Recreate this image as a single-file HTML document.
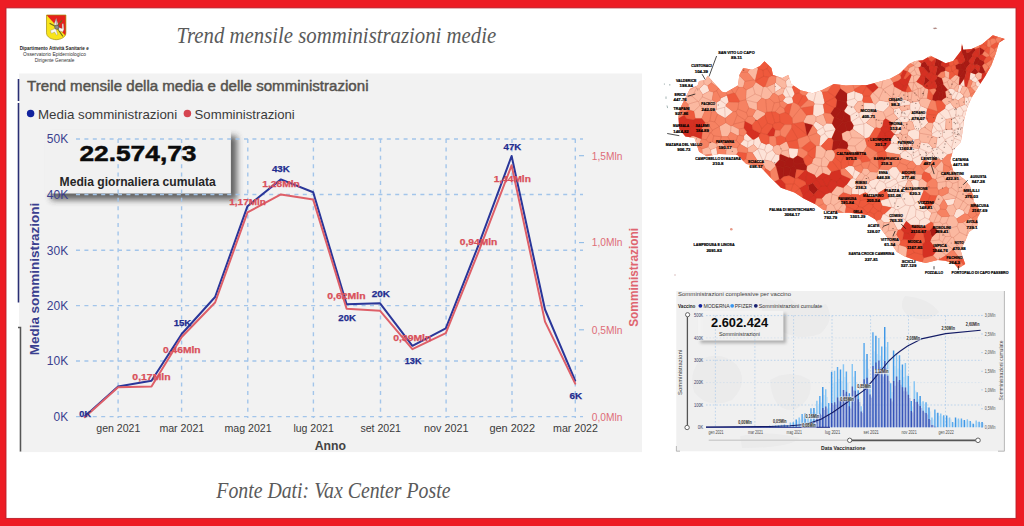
<!DOCTYPE html>
<html lang="it"><head><meta charset="utf-8"><title>Trend mensile somministrazioni medie</title>
<style>html,body{margin:0;padding:0;background:#ed1c24;overflow:hidden}svg{display:block}</style></head>
<body>
<svg width="1024" height="526" viewBox="0 0 1024 526">
<rect x="0" y="0" width="1024" height="526" fill="#ed1c24"/>
<rect x="6" y="7.9" width="1010" height="510.5" fill="#ffffff" stroke="#b9202b" stroke-width="0.9"/>
<text x="176.6" y="43.4" font-family='"Liberation Serif", "DejaVu Serif", serif' font-size="23.4" fill="#5a5a5a" font-style="italic" textLength="319.6" lengthAdjust="spacingAndGlyphs">Trend mensile somministrazioni medie</text>
<text x="216.3" y="497.7" font-family='"Liberation Serif", "DejaVu Serif", serif' font-size="23.4" fill="#5a5a5a" font-style="italic" textLength="234.2" lengthAdjust="spacingAndGlyphs">Fonte Dati: Vax Center Poste</text>
<text x="54.2" y="50.0" font-family='"Liberation Sans", "DejaVu Sans", sans-serif' font-size="5.2" fill="#222" text-anchor="middle" font-weight="bold" textLength="69" lengthAdjust="spacingAndGlyphs">Dipartimento Attività Sanitarie e</text>
<text x="54.5" y="56.0" font-family='"Liberation Sans", "DejaVu Sans", sans-serif' font-size="5.2" fill="#333" text-anchor="middle" textLength="62.8" lengthAdjust="spacingAndGlyphs">Osservatorio Epidemiologico</text>
<text x="54.6" y="62.4" font-family='"Liberation Sans", "DejaVu Sans", sans-serif' font-size="5.2" fill="#333" text-anchor="middle" textLength="39.5" lengthAdjust="spacingAndGlyphs">Dirigente Generale</text>
<g id="shield">
<defs><clipPath id="shc"><path d="M46.5 15 H65.9 V32.8 C65.9 37.2 61 39.5 56.2 39.7 C51.4 39.5 46.5 37.2 46.5 32.8 Z"/></clipPath></defs>
<g clip-path="url(#shc)">
<rect x="46" y="14" width="21" height="27" fill="#f8e41a"/>
<path d="M46.5 15 H66 V36.2 Z" fill="#e6211c"/>
<path d="M50 23.4 L55.6 26.4 M62.6 36 L57.6 28.6 M61.8 20.6 L57.6 25.6" stroke="#6a6a1e" stroke-width="1.1" fill="none" stroke-linecap="round"/>
<path d="M54 24.4 L56.2 18.3 L58 24.2 L56.4 25.6 Z M58.8 27.6 L62.2 28.6 L62.1 23.8 L63.4 23.7 L63.9 29.6 L62.8 32 L58.8 30.4 Z M55.4 28.4 L50.4 30.6 L51.4 33.4 L54.6 32 L56.6 35.2 L57.6 34.6 L56.4 30.4 Z" fill="#fbf8f0" stroke="#777" stroke-width="0.3"/>
<path d="M56.2 19.6 L56.3 24.6" stroke="#444" stroke-width="0.5"/>
<circle cx="56.8" cy="27.2" r="2.1" fill="#8b8d8c" stroke="#3c3c3c" stroke-width="0.45"/>
</g>
<path d="M46.5 15 H65.9 V32.8 C65.9 37.2 61 39.5 56.2 39.7 C51.4 39.5 46.5 37.2 46.5 32.8 Z" fill="none" stroke="#a38f10" stroke-width="0.7"/>
</g>
<rect x="19" y="73.5" width="623" height="378.6" fill="#f2f2f2"/>
<path d="M18.5 79 V101 M18.5 103 V302.5" stroke="#2a2f74" stroke-width="1.6"/>
<path d="M18 327.6 H20.5 V451.5" stroke="#555" stroke-width="1.5" fill="none"/>
<text x="27.1" y="90.6" font-family='"Liberation Sans", "DejaVu Sans", sans-serif' font-size="14.4" fill="#55524e" textLength="341.4" lengthAdjust="spacingAndGlyphs" stroke="#55524e" stroke-width="0.45">Trend mensile della media e delle somministrazioni</text>
<circle cx="30.6" cy="113.4" r="3.75" fill="#12239e"/>
<text x="38.0" y="118.8" font-family='"Liberation Sans", "DejaVu Sans", sans-serif' font-size="13.6" fill="#3a3a3a" textLength="139.2" lengthAdjust="spacingAndGlyphs">Media somministrazioni</text>
<circle cx="187.4" cy="113.4" r="3.75" fill="#d64550"/>
<text x="194.6" y="118.8" font-family='"Liberation Sans", "DejaVu Sans", sans-serif' font-size="13.6" fill="#3a3a3a" textLength="100.2" lengthAdjust="spacingAndGlyphs">Somministrazioni</text>
<defs><filter id="sh1" x="-20%" y="-20%" width="150%" height="160%"><feGaussianBlur stdDeviation="3"/></filter></defs>
<rect x="51" y="136" width="186" height="64" fill="#2e2e2e" opacity="0.72" filter="url(#sh1)"/>
<rect x="45" y="129.7" width="185.9" height="63.8" fill="#f1f1f1"/>
<g stroke="#a3c5ea" stroke-width="1.4" stroke-dasharray="4 4.4" fill="none"><path d="M76 139.0 H583"/><path d="M76 194.5 H583"/><path d="M76 250.2 H583"/><path d="M76 305.6 H583"/><path d="M76 361.0 H583"/><path d="M76 416.6 H583"/><path d="M118.1 139 V418"/><path d="M181.6 139 V418"/><path d="M247.8 139 V418"/><path d="M313.4 139 V418"/><path d="M380.5 139 V418"/><path d="M446.1 139 V418"/><path d="M512.0 139 V418"/><path d="M575.3 139 V418"/></g>
<g stroke="#8fbbe6" stroke-width="1.1"><path d="M579 155.7 H584"/><path d="M579 242.6 H584"/><path d="M579 329.8 H584"/></g>
<text x="68.2" y="143.4" font-family='"Liberation Sans", "DejaVu Sans", sans-serif' font-size="12.3" fill="#3a3f8f" text-anchor="end" textLength="21.4" lengthAdjust="spacingAndGlyphs">50K</text>
<text x="68.2" y="198.9" font-family='"Liberation Sans", "DejaVu Sans", sans-serif' font-size="12.3" fill="#3a3f8f" text-anchor="end" textLength="21.4" lengthAdjust="spacingAndGlyphs">40K</text>
<text x="68.2" y="254.6" font-family='"Liberation Sans", "DejaVu Sans", sans-serif' font-size="12.3" fill="#3a3f8f" text-anchor="end" textLength="21.4" lengthAdjust="spacingAndGlyphs">30K</text>
<text x="68.2" y="310.0" font-family='"Liberation Sans", "DejaVu Sans", sans-serif' font-size="12.3" fill="#3a3f8f" text-anchor="end" textLength="21.4" lengthAdjust="spacingAndGlyphs">20K</text>
<text x="68.2" y="365.4" font-family='"Liberation Sans", "DejaVu Sans", sans-serif' font-size="12.3" fill="#3a3f8f" text-anchor="end" textLength="21.4" lengthAdjust="spacingAndGlyphs">10K</text>
<text x="68.2" y="421.0" font-family='"Liberation Sans", "DejaVu Sans", sans-serif' font-size="12.3" fill="#3a3f8f" text-anchor="end" textLength="14.6" lengthAdjust="spacingAndGlyphs">0K</text>
<text x="591.8" y="159.5" font-family='"Liberation Sans", "DejaVu Sans", sans-serif' font-size="10.6" fill="#de6d78" textLength="30.6" lengthAdjust="spacingAndGlyphs">1,5Mln</text>
<text x="591.8" y="246.4" font-family='"Liberation Sans", "DejaVu Sans", sans-serif' font-size="10.6" fill="#de6d78" textLength="30.6" lengthAdjust="spacingAndGlyphs">1,0Mln</text>
<text x="591.8" y="333.6" font-family='"Liberation Sans", "DejaVu Sans", sans-serif' font-size="10.6" fill="#de6d78" textLength="30.6" lengthAdjust="spacingAndGlyphs">0,5Mln</text>
<text x="591.8" y="420.8" font-family='"Liberation Sans", "DejaVu Sans", sans-serif' font-size="10.6" fill="#de6d78" textLength="30.6" lengthAdjust="spacingAndGlyphs">0,0Mln</text>
<text transform="translate(38.6 279) rotate(-90)" text-anchor="middle" font-family='"Liberation Sans", "DejaVu Sans", sans-serif' font-size="12.6" font-weight="bold" fill="#3a3f8f" textLength="152.5" lengthAdjust="spacingAndGlyphs">Media somministrazioni</text>
<text transform="translate(638.2 277.4) rotate(-90)" text-anchor="middle" font-family='"Liberation Sans", "DejaVu Sans", sans-serif' font-size="12.4" font-weight="bold" fill="#df6570" textLength="98.8" lengthAdjust="spacingAndGlyphs">Somministrazioni</text>
<text x="118.3" y="432.2" font-family='"Liberation Sans", "DejaVu Sans", sans-serif' font-size="11.6" fill="#3b3b3b" text-anchor="middle" textLength="44" lengthAdjust="spacingAndGlyphs">gen 2021</text>
<text x="181.79999999999998" y="432.2" font-family='"Liberation Sans", "DejaVu Sans", sans-serif' font-size="11.6" fill="#3b3b3b" text-anchor="middle" textLength="44.8" lengthAdjust="spacingAndGlyphs">mar 2021</text>
<text x="248.0" y="432.2" font-family='"Liberation Sans", "DejaVu Sans", sans-serif' font-size="11.6" fill="#3b3b3b" text-anchor="middle" textLength="47.2" lengthAdjust="spacingAndGlyphs">mag 2021</text>
<text x="313.59999999999997" y="432.2" font-family='"Liberation Sans", "DejaVu Sans", sans-serif' font-size="11.6" fill="#3b3b3b" text-anchor="middle" textLength="40.4" lengthAdjust="spacingAndGlyphs">lug 2021</text>
<text x="380.7" y="432.2" font-family='"Liberation Sans", "DejaVu Sans", sans-serif' font-size="11.6" fill="#3b3b3b" text-anchor="middle" textLength="40.6" lengthAdjust="spacingAndGlyphs">set 2021</text>
<text x="446.3" y="432.2" font-family='"Liberation Sans", "DejaVu Sans", sans-serif' font-size="11.6" fill="#3b3b3b" text-anchor="middle" textLength="44.6" lengthAdjust="spacingAndGlyphs">nov 2021</text>
<text x="512.2" y="432.2" font-family='"Liberation Sans", "DejaVu Sans", sans-serif' font-size="11.6" fill="#3b3b3b" text-anchor="middle" textLength="45.6" lengthAdjust="spacingAndGlyphs">gen 2022</text>
<text x="575.5" y="432.2" font-family='"Liberation Sans", "DejaVu Sans", sans-serif' font-size="11.6" fill="#3b3b3b" text-anchor="middle" textLength="44.9" lengthAdjust="spacingAndGlyphs">mar 2022</text>
<text x="330.3" y="450.4" font-family='"Liberation Sans", "DejaVu Sans", sans-serif' font-size="12.2" fill="#444" text-anchor="middle" font-weight="bold" textLength="31.3" lengthAdjust="spacingAndGlyphs">Anno</text>
<path d="M84.7 416.4 L118.1 386.4 L151.5 380.8 L181.7 334.0 L215.1 297.0 L247.5 206.2 L280.9 179.4 L313.2 192.3 L346.6 304.2 L380.1 303.3 L412.4 345.8 L445.8 328.3 L478.2 245.8 L511.6 156.0 L545.0 309.5 L575.2 380.6" fill="none" stroke="#2a3699" stroke-width="2" stroke-linejoin="round" stroke-linecap="round"/>
<path d="M84.7 417.2 L118.1 387.3 L151.5 386.5 L181.7 337.0 L215.1 302.5 L247.5 212.4 L280.9 194.4 L313.2 199.6 L346.6 308.8 L380.1 310.8 L412.4 349.2 L445.8 333.2 L478.2 252.6 L511.6 165.4 L545.0 321.6 L575.2 383.6" fill="none" stroke="#de5f68" stroke-width="2" stroke-linejoin="round" stroke-linecap="round"/>
<text x="85.2" y="416.90000000000003" font-family='"Liberation Sans", "DejaVu Sans", sans-serif' font-size="8.7" fill="#222c8f" text-anchor="middle" font-weight="bold" textLength="11.7" lengthAdjust="spacingAndGlyphs" stroke="#222c8f" stroke-width="0.25">0K</text>
<text x="182.5" y="326.40000000000003" font-family='"Liberation Sans", "DejaVu Sans", sans-serif' font-size="8.7" fill="#222c8f" text-anchor="middle" font-weight="bold" textLength="17.6" lengthAdjust="spacingAndGlyphs" stroke="#222c8f" stroke-width="0.25">15K</text>
<text x="280.9" y="171.6" font-family='"Liberation Sans", "DejaVu Sans", sans-serif' font-size="8.7" fill="#222c8f" text-anchor="middle" font-weight="bold" textLength="17.9" lengthAdjust="spacingAndGlyphs" stroke="#222c8f" stroke-width="0.25">43K</text>
<text x="347.1" y="321.40000000000003" font-family='"Liberation Sans", "DejaVu Sans", sans-serif' font-size="8.7" fill="#222c8f" text-anchor="middle" font-weight="bold" textLength="17.6" lengthAdjust="spacingAndGlyphs" stroke="#222c8f" stroke-width="0.25">20K</text>
<text x="380.8" y="296.8" font-family='"Liberation Sans", "DejaVu Sans", sans-serif' font-size="8.7" fill="#222c8f" text-anchor="middle" font-weight="bold" textLength="18.3" lengthAdjust="spacingAndGlyphs" stroke="#222c8f" stroke-width="0.25">20K</text>
<text x="413.1" y="364.0" font-family='"Liberation Sans", "DejaVu Sans", sans-serif' font-size="8.7" fill="#222c8f" text-anchor="middle" font-weight="bold" textLength="16.7" lengthAdjust="spacingAndGlyphs" stroke="#222c8f" stroke-width="0.25">13K</text>
<text x="512.4" y="149.7" font-family='"Liberation Sans", "DejaVu Sans", sans-serif' font-size="8.7" fill="#222c8f" text-anchor="middle" font-weight="bold" textLength="17.7" lengthAdjust="spacingAndGlyphs" stroke="#222c8f" stroke-width="0.25">47K</text>
<text x="575.8" y="398.90000000000003" font-family='"Liberation Sans", "DejaVu Sans", sans-serif' font-size="8.7" fill="#222c8f" text-anchor="middle" font-weight="bold" textLength="12.6" lengthAdjust="spacingAndGlyphs" stroke="#222c8f" stroke-width="0.25">6K</text>
<text x="151.5" y="379.6" font-family='"Liberation Sans", "DejaVu Sans", sans-serif' font-size="8.9" fill="#d9505a" text-anchor="middle" font-weight="bold" textLength="38.3" lengthAdjust="spacingAndGlyphs" stroke="#d9505a" stroke-width="0.25">0,17Mln</text>
<text x="181.8" y="353.0" font-family='"Liberation Sans", "DejaVu Sans", sans-serif' font-size="8.9" fill="#d9505a" text-anchor="middle" font-weight="bold" textLength="37.6" lengthAdjust="spacingAndGlyphs" stroke="#d9505a" stroke-width="0.25">0,46Mln</text>
<text x="247.6" y="205.0" font-family='"Liberation Sans", "DejaVu Sans", sans-serif' font-size="8.9" fill="#d9505a" text-anchor="middle" font-weight="bold" textLength="36.6" lengthAdjust="spacingAndGlyphs" stroke="#d9505a" stroke-width="0.25">1,17Mln</text>
<text x="281.0" y="186.79999999999998" font-family='"Liberation Sans", "DejaVu Sans", sans-serif' font-size="8.9" fill="#d9505a" text-anchor="middle" font-weight="bold" textLength="37.5" lengthAdjust="spacingAndGlyphs" stroke="#d9505a" stroke-width="0.25">1,28Mln</text>
<text x="346.4" y="299.40000000000003" font-family='"Liberation Sans", "DejaVu Sans", sans-serif' font-size="8.9" fill="#d9505a" text-anchor="middle" font-weight="bold" textLength="38.3" lengthAdjust="spacingAndGlyphs" stroke="#d9505a" stroke-width="0.25">0,62Mln</text>
<text x="412.3" y="340.70000000000005" font-family='"Liberation Sans", "DejaVu Sans", sans-serif' font-size="8.9" fill="#d9505a" text-anchor="middle" font-weight="bold" textLength="38.2" lengthAdjust="spacingAndGlyphs" stroke="#d9505a" stroke-width="0.25">0,39Mln</text>
<text x="478.5" y="245.2" font-family='"Liberation Sans", "DejaVu Sans", sans-serif' font-size="8.9" fill="#d9505a" text-anchor="middle" font-weight="bold" textLength="37.6" lengthAdjust="spacingAndGlyphs" stroke="#d9505a" stroke-width="0.25">0,94Mln</text>
<text x="512.3" y="182.0" font-family='"Liberation Sans", "DejaVu Sans", sans-serif' font-size="8.9" fill="#d9505a" text-anchor="middle" font-weight="bold" textLength="37.2" lengthAdjust="spacingAndGlyphs" stroke="#d9505a" stroke-width="0.25">1,44Mln</text>
<text x="79.4" y="160.8" font-family='"Liberation Sans", "DejaVu Sans", sans-serif' font-size="22.4" fill="#0b0b0b" font-weight="bold" textLength="117.1" lengthAdjust="spacingAndGlyphs" stroke="#0b0b0b" stroke-width="0.5">22.574,73</text>
<text x="59.6" y="185.5" font-family='"Liberation Sans", "DejaVu Sans", sans-serif' font-size="12.1" fill="#262626" font-weight="bold" textLength="156.2" lengthAdjust="spacingAndGlyphs">Media giornaliera cumulata</text>
<g id="map">
<defs><clipPath id="sic"><path d="M679.3 128.9 L678.4 117 L680.1 108.4 L683.9 100.8 L687.7 93.2 L690 88.7 L697.6 85.6 L699.1 81.1 L705.2 80.3 L707.5 75.7 L715 84 L722 91.7 L725.7 92.5 L737.9 85.6 L739.4 75 L743.2 68.1 L752.3 69.7 L760 65.9 L764.5 61.3 L771.4 68.1 L773 75 L782.2 78 L788.3 75 L791.3 84.1 L800.4 90.2 L812.6 93.2 L821.7 90.2 L833.9 84.1 L846 85.6 L855.2 84.9 L867.3 84.9 L876.5 82.6 L890 78.8 L900 73.2 L909.1 64.1 L915.2 61.1 L922.8 60.3 L930.4 55.7 L938 59.5 L945.6 63.3 L953.2 61.1 L961.2 50.6 L961.9 43.6 L963.3 49.7 L971.5 48.9 L982.1 44.3 L992.8 35.2 L1004.9 39 L998.9 42.8 L995.8 53.5 L991.3 65.6 L985.2 76.3 L979.1 85.6 L971.5 97.8 L966.9 108.5 L963.9 120.6 L962.4 132.8 L960.8 142 L953.2 149.8 L950.2 160.4 L953.2 171 L959.3 175.6 L965.4 180.2 L970 186.3 L973 195.4 L973.5 201.5 L977.3 206 L980.4 212.2 L977.3 218.3 L977.3 225.9 L969 232 L965.2 241 L960.6 250.2 L962.9 257.8 L965.2 263.9 L958.3 268.4 L954.5 263.9 L945.4 260.8 L937.8 260.1 L925.6 263.1 L916.5 260.8 L904.3 256.3 L896.7 251.7 L887.6 238 L880 227.4 L875.4 219.5 L867.8 215 L849.5 212.7 L838.9 212.7 L823.4 210 L815.8 204.5 L803.7 198.4 L794.5 192.4 L780.9 187.8 L770.4 177.5 L761.5 168 L755 165.5 L746.3 163.9 L737.1 154.8 L718.9 154 L706.7 156.3 L699.1 151.7 L694.5 138 L685.4 136.5 Z"/></clipPath></defs>
<path d="M679.3 128.9 L678.4 117 L680.1 108.4 L683.9 100.8 L687.7 93.2 L690 88.7 L697.6 85.6 L699.1 81.1 L705.2 80.3 L707.5 75.7 L715 84 L722 91.7 L725.7 92.5 L737.9 85.6 L739.4 75 L743.2 68.1 L752.3 69.7 L760 65.9 L764.5 61.3 L771.4 68.1 L773 75 L782.2 78 L788.3 75 L791.3 84.1 L800.4 90.2 L812.6 93.2 L821.7 90.2 L833.9 84.1 L846 85.6 L855.2 84.9 L867.3 84.9 L876.5 82.6 L890 78.8 L900 73.2 L909.1 64.1 L915.2 61.1 L922.8 60.3 L930.4 55.7 L938 59.5 L945.6 63.3 L953.2 61.1 L961.2 50.6 L961.9 43.6 L963.3 49.7 L971.5 48.9 L982.1 44.3 L992.8 35.2 L1004.9 39 L998.9 42.8 L995.8 53.5 L991.3 65.6 L985.2 76.3 L979.1 85.6 L971.5 97.8 L966.9 108.5 L963.9 120.6 L962.4 132.8 L960.8 142 L953.2 149.8 L950.2 160.4 L953.2 171 L959.3 175.6 L965.4 180.2 L970 186.3 L973 195.4 L973.5 201.5 L977.3 206 L980.4 212.2 L977.3 218.3 L977.3 225.9 L969 232 L965.2 241 L960.6 250.2 L962.9 257.8 L965.2 263.9 L958.3 268.4 L954.5 263.9 L945.4 260.8 L937.8 260.1 L925.6 263.1 L916.5 260.8 L904.3 256.3 L896.7 251.7 L887.6 238 L880 227.4 L875.4 219.5 L867.8 215 L849.5 212.7 L838.9 212.7 L823.4 210 L815.8 204.5 L803.7 198.4 L794.5 192.4 L780.9 187.8 L770.4 177.5 L761.5 168 L755 165.5 L746.3 163.9 L737.1 154.8 L718.9 154 L706.7 156.3 L699.1 151.7 L694.5 138 L685.4 136.5 Z" fill="#f68262"/>
<g clip-path="url(#sic)" stroke="#b4442f" stroke-opacity="0.35" stroke-width="0.3" stroke-linejoin="round">
<path fill="#fde3d8" d="M960.0 84.7 959.1 84.6 957.6 91.7 958.2 92.1 960.2 92.4 962.5 86.2ZM947.9 89.9 951.6 96.3 955.4 91.0 953.7 89.1 950.6 88.3 949.7 88.5ZM975.7 82.6 978.3 80.5 987.7 94.6 985.0 93.4 975.8 85.3ZM970.4 72.4 970.6 72.4 975.4 74.3 975.4 76.2 971.3 80.0 969.4 79.5ZM975.7 82.6 978.3 80.5 978.5 80.2 975.4 76.2 971.3 80.0 972.5 81.4ZM957.6 91.7 955.4 91.0 951.6 96.3 951.7 98.8 951.9 99.0 955.0 99.1 958.2 92.1ZM958.2 92.1 955.0 99.1 958.2 100.6 963.8 96.4 963.2 94.9 960.2 92.4ZM964.1 78.7 964.9 86.3 962.5 86.2 960.0 84.7 964.1 78.7ZM897.8 209.7 901.8 217.9 905.2 219.8 910.3 205.8 905.6 205.0ZM761.2 142.4 766.1 144.4 764.5 150.0 758.5 148.5ZM954.9 117.5 959.8 124.7 965.4 118.6 962.2 115.9 956.0 116.5ZM851.4 121.7 853.6 125.5 863.8 123.9 863.9 123.8 859.3 116.6ZM961.1 136.1 960.9 128.2 1006.6 130.7 1052.9 138.9 1068.7 142.5 1081.7 147.2 1085.0 148.6 1068.9 150.8 1001.6 157.9 979.9 155.3 965.8 142.9ZM747.4 148.2 748.0 141.5 752.5 139.3 754.0 139.4 753.6 144.5 747.5 148.2ZM875.2 104.5 875.4 110.0 872.3 113.2 863.5 110.3 863.7 102.6 873.0 103.1ZM852.7 176.7 852.9 178.0 855.8 179.4 860.6 172.7 854.9 169.6ZM878.3 193.0 874.4 188.4 872.1 188.2 867.4 193.4 868.6 195.9 877.5 197.8ZM858.9 112.8 859.3 116.6 851.4 121.7 850.6 121.2 850.1 115.7 856.8 111.7ZM967.8 97.3 964.7 96.9 964.5 104.6 966.4 105.0 969.5 102.0ZM906.9 122.6 909.2 120.6 907.7 117.0 901.0 116.4 898.5 118.4 901.6 122.4ZM944.9 108.5 948.5 110.7 954.4 107.9 950.4 102.6 945.5 105.4ZM903.4 99.5 898.6 96.8 893.8 98.0 900.0 105.8ZM954.9 117.5 951.5 118.4 948.5 110.7 954.4 107.9 956.1 108.5 956.0 116.5ZM918.9 188.2 923.8 190.6 919.6 200.8 915.0 203.1 910.8 192.4 914.1 188.7ZM901.6 122.4 898.5 118.4 898.0 118.5 893.1 122.8 898.3 128.1 901.5 128.1 901.8 127.9ZM916.4 118.5 912.5 122.0 909.2 120.6 907.7 117.0 911.1 111.2 912.5 111.8ZM864.0 137.0 863.8 123.9 853.6 125.5 852.6 129.0ZM854.6 98.5 854.9 91.5 862.3 93.9 863.3 96.4 862.4 100.8 857.8 101.7ZM928.4 122.5 924.3 127.1 921.3 128.8 918.9 118.5 919.1 118.4 925.9 118.2ZM864.5 138.3 864.6 138.5 865.0 138.7 869.4 137.2 874.8 128.2 866.3 122.7 863.9 123.8 863.8 123.9 864.0 137.0ZM852.2 165.9 848.8 165.8 844.5 168.2 852.7 176.7 854.9 169.6 854.0 166.9ZM897.0 143.6 902.8 151.6 900.1 154.7 886.2 152.2 884.7 150.5 890.7 143.4ZM888.7 197.8 892.9 196.5 897.0 198.7 893.9 207.9 891.9 207.3 888.4 198.3ZM895.5 134.7 900.6 133.6 901.5 128.1 898.3 128.1 894.1 133.9 894.2 134.3ZM893.9 207.9 895.5 209.3 891.0 218.1 884.4 214.1 891.4 207.4 891.9 207.3ZM854.6 98.5 854.9 91.5 854.2 90.8 847.0 93.4 847.0 100.6ZM897.0 143.6 890.7 143.4 890.8 139.5 894.2 134.3 895.5 134.7 899.8 140.2ZM916.0 209.2 923.8 211.9 924.8 217.7 919.7 220.6 915.4 216.3ZM919.1 118.4 920.0 112.5 918.6 110.6 912.5 111.8 916.4 118.5 918.9 118.5ZM812.9 124.9 815.8 121.2 823.3 126.1 823.2 127.3 817.2 130.6ZM969.9 96.1 1039.1 126.1 1062.5 139.2 969.5 102.0 967.8 97.3ZM900.0 172.1 895.9 179.2 894.5 178.9 889.0 173.9 888.5 170.1 892.2 167.0 896.6 166.9ZM823.2 127.3 825.2 131.5 835.4 129.8 835.8 129.4 832.0 123.5 826.6 123.3 823.3 126.1ZM933.1 124.9 931.3 131.9 932.1 133.8 937.2 130.7ZM901.0 116.4 898.5 118.4 898.0 118.5 893.8 113.2 893.5 109.3 899.4 107.8 901.8 111.3ZM904.0 151.0 902.8 151.6 900.1 154.7 900.5 157.9 910.7 161.2 912.5 160.7 912.7 158.9 911.1 154.9 905.7 150.7ZM790.0 96.8 792.3 97.8 794.8 94.0 792.1 87.1 786.4 86.8 785.5 87.9ZM919.9 165.4 916.4 165.5 912.5 160.7 912.7 158.9 919.9 155.2 924.0 158.5 924.0 159.3ZM959.9 127.8 960.9 128.2 1006.6 130.7 965.4 118.6 959.8 124.7ZM889.4 222.6 891.7 221.1 891.0 218.1 884.4 214.1 882.7 214.3 880.7 219.2 883.9 222.5ZM930.1 162.8 935.2 157.4 931.8 151.5 929.1 152.9 924.0 158.5 924.0 159.3ZM865.5 184.0 863.4 187.3 865.2 192.6 867.4 193.4 872.1 188.2 868.5 183.5ZM775.6 153.9 771.1 161.2 764.6 160.0 766.8 153.4 772.7 150.0ZM926.4 113.1 920.0 112.5 918.6 110.6 920.7 105.7 927.4 108.7ZM905.7 150.7 911.1 154.9 918.5 149.9 918.7 148.5 909.4 147.6 908.5 147.9ZM965.4 118.6 1006.6 130.7 1052.9 138.9 969.6 109.8 963.5 111.4 962.2 115.9ZM789.7 157.5 793.1 158.7 797.5 155.5 798.5 148.7 789.3 148.1 788.3 150.0ZM897.3 229.6 893.2 221.7 901.8 217.9 905.2 219.8 906.2 221.3 900.9 229.6 898.1 230.0ZM718.3 161.2 716.5 147.4 710.6 149.7 711.3 154.2ZM897.5 182.9 897.6 182.6 895.9 179.2 894.5 178.9 885.2 183.9 886.3 187.3 890.5 187.7ZM961.1 136.1 960.9 128.2 959.9 127.8 953.1 130.0 953.5 133.6ZM870.0 180.7 868.5 183.5 872.1 188.2 874.4 188.4 879.5 180.4 877.6 177.9ZM893.9 207.9 895.5 209.3 897.8 209.7 905.6 205.0 901.6 197.6 897.0 198.7ZM748.0 141.5 743.9 139.5 743.7 136.1 746.3 133.4 752.5 139.3ZM895.5 209.3 891.0 218.1 891.7 221.1 893.2 221.7 901.8 217.9 897.8 209.7ZM872.3 113.2 872.1 116.4 866.3 122.7 863.9 123.8 859.3 116.6 858.9 112.8 863.5 110.3ZM945.0 140.6 944.9 139.6 942.4 136.2 937.1 137.8 935.8 147.2 937.6 147.3ZM945.5 129.4 952.0 129.2 953.1 130.0 953.5 133.6 952.9 135.5 944.9 139.6 942.4 136.2 942.5 131.1 942.7 130.6ZM883.3 112.1 875.4 110.0 875.2 104.5 879.3 100.2 889.2 102.1 889.4 105.9ZM854.6 98.5 847.0 100.6 846.4 101.9 847.5 105.5 853.8 107.1 857.8 101.7ZM918.9 188.2 919.0 180.5 914.3 179.2 910.4 181.0 914.1 188.7ZM908.0 180.2 907.4 179.6 897.6 182.6 897.5 182.9 898.7 185.0 904.9 187.5ZM961.1 136.1 953.5 133.6 952.9 135.5 954.2 138.2 965.8 142.9ZM942.7 130.6 942.5 131.1 937.2 130.7 933.1 124.9 932.7 122.7 934.5 121.5 939.6 123.9ZM888.4 198.3 880.2 200.6 882.1 205.7 891.4 207.4 891.9 207.3ZM816.8 133.1 817.2 130.6 823.2 127.3 825.2 131.5 824.7 133.6 820.3 135.9ZM823.3 114.2 816.0 117.1 813.0 114.6 813.4 105.9 814.5 103.9 823.2 104.6 824.5 112.8ZM753.6 144.5 757.7 148.9 757.7 148.9 758.5 148.5 761.2 142.4 758.7 136.6 754.0 139.4ZM814.5 103.9 813.6 102.1 817.0 88.3 822.2 92.0 824.8 102.7 824.7 102.9 823.2 104.6ZM945.9 119.3 939.6 123.9 942.7 130.6 945.5 129.4 946.0 119.3ZM877.2 172.2 877.6 177.9 879.5 180.4 883.9 182.3 889.0 173.9 888.5 170.1 879.1 169.2ZM888.7 197.8 885.8 188.5 886.3 187.3 890.5 187.7 894.6 191.6 892.9 196.5ZM792.1 87.1 802.3 78.6 811.5 65.0 812.6 57.1 785.7 81.1 786.4 86.8ZM906.7 221.4 910.7 225.0 919.3 224.9 919.7 220.6 915.4 216.3ZM919.0 148.1 929.1 152.9 931.8 151.5 932.9 148.1 928.7 143.3 920.9 142.1ZM931.0 222.0 929.2 219.4 924.8 217.7 919.7 220.6 919.3 224.9 921.2 228.2ZM905.2 219.8 906.2 221.3 906.7 221.4 915.4 216.3 916.0 209.2 913.8 205.2 910.3 205.8ZM952.0 129.2 953.1 130.0 959.9 127.8 959.8 124.7 954.9 117.5 951.5 118.4 951.5 118.5ZM779.5 159.7 775.1 164.2 771.1 161.2 775.6 153.9 779.6 154.9ZM820.3 135.9 824.7 133.6 828.4 138.1 821.0 146.1 819.1 145.5ZM855.8 179.4 856.5 180.2 856.3 185.8 851.9 188.5 846.6 184.7 850.7 179.0 852.9 178.0ZM966.4 105.0 969.6 109.8 963.5 111.4 960.2 106.3 964.5 104.6ZM908.5 147.9 909.4 147.6 915.4 139.8 913.0 139.5 907.9 141.9ZM885.8 188.5 886.3 187.3 885.2 183.9 883.9 182.3 879.5 180.4 874.4 188.4 878.3 193.0ZM919.9 155.2 912.7 158.9 911.1 154.9 918.5 149.9ZM825.2 131.5 835.4 129.8 831.7 138.3 828.4 138.1 824.7 133.6ZM908.7 101.0 910.7 102.5 909.9 105.0 900.1 106.3 900.0 105.8 903.4 99.5 904.9 99.5ZM955.4 198.2 953.5 204.5 947.6 205.8 944.4 199.9ZM931.7 213.0 929.2 219.4 924.8 217.7 923.8 211.9 927.6 209.5ZM894.6 191.6 890.5 187.7 897.5 182.9 898.7 185.0 898.0 190.9ZM790.0 96.8 785.5 87.9 784.6 88.3 782.7 94.1 785.4 97.3ZM919.0 148.1 929.1 152.9 924.0 158.5 919.9 155.2 918.5 149.9 918.7 148.5ZM863.4 187.3 865.2 192.6 859.6 195.3 858.5 194.6 858.5 187.3ZM772.7 150.0 773.5 146.5 769.1 143.5 766.1 144.4 764.5 150.0 766.8 153.4ZM892.9 196.5 894.6 191.6 898.0 190.9 902.6 194.3 901.6 197.6 897.0 198.7ZM951.5 147.8 954.2 138.2 952.9 135.5 944.9 139.6 945.0 140.6ZM904.0 151.0 902.8 151.6 897.0 143.6 899.8 140.2 901.3 140.0 903.0 140.9ZM938.5 112.7 939.1 112.6 945.9 119.3 939.6 123.9 934.5 121.5 936.6 115.2ZM904.9 187.5 898.7 185.0 898.0 190.9 902.6 194.3 906.1 191.9ZM951.5 147.8 954.2 138.2 965.8 142.9 979.9 155.3 974.4 155.7 957.2 154.1 953.7 152.9ZM911.1 111.2 907.7 117.0 901.0 116.4 901.8 111.3 910.0 109.0ZM927.6 209.4 927.6 209.5 923.8 211.9 916.0 209.2 913.8 205.2 915.0 203.1 919.6 200.8 922.9 201.9ZM757.7 148.9 762.9 160.9 764.6 160.0 766.8 153.4 764.5 150.0 758.5 148.5ZM757.7 148.9 752.4 152.7 758.6 162.6 762.0 161.7 762.9 160.9 757.7 148.9ZM921.3 128.8 918.9 118.5 916.4 118.5 912.5 122.0 914.5 129.1 919.3 131.1ZM702.7 94.6 709.5 91.1 707.7 85.8 704.1 84.0 699.1 89.0ZM725.2 118.2 725.2 118.2 724.7 107.2 725.8 106.1 733.1 111.8ZM853.8 107.1 856.8 111.7 850.1 115.7 844.8 112.3 844.1 110.7 847.5 105.5ZM945.9 119.3 939.1 112.6 944.9 108.5 948.5 110.7 951.5 118.4 951.5 118.5 946.0 119.3ZM747.4 148.2 748.0 141.5 743.9 139.5 740.0 144.1ZM726.1 104.4 725.8 106.1 724.7 107.2 716.5 109.4 716.4 102.5 720.1 100.2ZM883.9 182.3 889.0 173.9 894.5 178.9 885.2 183.9ZM969.5 102.0 966.4 105.0 969.6 109.8 1052.9 138.9 1068.7 142.5 1062.5 139.2ZM813.6 102.1 817.0 88.3 814.5 83.9 805.6 95.4 808.0 99.8ZM858.5 187.3 858.5 194.6 851.5 194.3 851.9 188.5 856.3 185.8ZM937.2 130.7 932.1 133.8 931.7 135.3 932.0 136.1 937.1 137.8 942.4 136.2 942.5 131.1ZM910.8 192.4 915.0 203.1 913.8 205.2 910.3 205.8 905.6 205.0 901.6 197.6 902.6 194.3 906.1 191.9ZM775.0 92.3 782.0 88.0 775.5 82.5 774.7 83.5ZM956.0 116.5 962.2 115.9 963.5 111.4 960.2 106.3 959.7 106.2 956.1 108.5ZM951.5 147.8 945.0 140.6 937.6 147.3 947.4 154.7 953.7 152.9ZM906.7 176.9 903.7 173.2 900.0 172.1 895.9 179.2 897.6 182.6 907.4 179.6ZM726.1 104.4 720.1 100.2 720.5 98.2 727.1 95.2 728.8 102.0ZM790.0 96.8 792.3 97.8 793.4 102.3 791.8 103.4 787.5 104.2 782.7 101.1 785.4 97.3ZM717.6 114.0 725.2 118.2 724.7 107.2 716.5 109.4 715.4 111.2ZM907.6 135.1 913.0 139.5 915.4 139.8 919.1 139.1 919.7 133.2 919.3 131.1 914.5 129.1 908.6 130.8 907.3 134.0ZM947.4 154.7 941.7 160.4 935.2 157.4 931.8 151.5 932.9 148.1 935.8 147.2 937.6 147.3ZM910.7 102.5 909.9 105.0 910.0 109.0 911.1 111.2 912.5 111.8 918.6 110.6 920.7 105.7 918.7 101.0 910.8 102.5ZM956.2 209.5 953.6 216.0 956.6 218.8 964.8 213.4 963.6 210.5 959.2 208.6ZM926.7 114.1 925.9 118.2 919.1 118.4 920.0 112.5 926.4 113.1Z"/>
<path fill="#fbb8a0" d="M947.8 89.9 942.9 84.0 943.3 83.3 947.3 81.8 949.7 88.5 947.9 89.9ZM970.5 94.4 969.9 96.1 967.8 97.3 964.7 96.9 963.8 96.4 963.2 94.9 967.6 87.7 968.2 87.8ZM958.9 84.5 959.1 84.6 957.6 91.7 955.4 91.0 953.7 89.1 957.6 84.3ZM920.8 66.4 921.4 63.3 918.4 61.0 914.0 65.6 915.0 67.0 918.6 67.5ZM892.1 51.7 913.9 65.5 910.2 30.7 829.2 -192.7 831.6 -116.4 835.8 -38.8 859.9 16.3ZM911.5 75.1 913.5 75.9 916.9 74.7 914.5 69.6 910.1 73.2 910.3 73.9ZM936.8 53.0 941.7 39.1 825.3 -251.1 829.2 -192.7 910.2 30.7 917.7 47.7 921.7 53.2 928.8 58.0ZM918.2 88.7 920.8 88.1 923.5 86.5 923.5 86.1 916.4 81.7 914.0 82.6 917.9 88.6ZM964.9 86.3 962.5 86.2 960.2 92.4 963.2 94.9 967.6 87.7 966.9 86.9ZM975.8 85.3 985.0 93.4 975.2 91.7 971.4 87.7ZM914.0 65.6 918.4 61.0 917.7 47.7 910.2 30.7 913.9 65.5 914.0 65.6ZM922.1 98.3 927.2 98.4 928.4 89.4 927.7 88.9 925.2 88.0ZM907.7 92.3 911.7 91.3 912.2 91.4 910.8 102.5 910.7 102.5 908.7 101.0ZM908.6 82.6 908.0 84.1 908.2 85.1 911.7 91.3 912.2 91.4 912.5 91.3 912.6 91.2 913.7 82.6ZM954.4 81.9 957.6 84.3 953.7 89.1 950.6 88.3 953.1 81.8ZM920.9 98.7 920.8 88.1 923.5 86.5 925.2 88.0 922.1 98.3ZM945.2 70.4 949.5 72.2 949.1 78.5 945.1 76.8 944.3 71.3ZM918.3 96.3 920.0 99.1 920.9 98.7 920.8 88.1 918.2 88.7ZM912.5 91.3 912.2 91.4 910.8 102.5 918.7 101.0 920.0 99.1 918.3 96.3ZM912.5 91.3 918.3 96.3 918.2 88.7 917.9 88.6 912.6 91.2ZM959.7 76.9 958.9 84.5 957.6 84.3 954.4 81.9 958.7 76.4 959.5 76.7ZM920.4 75.7 916.9 74.7 914.5 69.6 915.0 67.0 918.6 67.5 920.8 73.9 920.6 75.7ZM943.3 83.3 941.7 78.3 945.1 76.8 949.1 78.5 949.5 79.1 947.3 81.8ZM905.5 91.8 907.7 92.3 908.7 101.0 904.9 99.5 905.2 91.8ZM969.3 41.4 965.0 45.1 961.8 45.8 944.4 42.2 941.7 39.1 825.3 -251.1 799.4 -463.0 841.7 -534.0 842.8 -532.8 959.5 -37.8 972.6 24.7 972.1 31.7 969.7 40.9ZM920.4 75.7 916.9 74.7 913.5 75.9 913.7 82.5 914.0 82.6 916.4 81.7 920.1 76.8ZM947.8 89.9 945.2 91.6 946.2 97.3 951.7 98.8 951.6 96.3 947.9 89.9ZM911.5 75.1 913.5 75.9 913.7 82.5 913.7 82.6 908.6 82.6 908.5 82.4ZM913.7 82.6 912.6 91.2 917.9 88.6 914.0 82.6 913.7 82.5ZM905.2 91.8 902.0 90.9 898.6 96.8 903.4 99.5 904.9 99.5ZM953.1 81.8 950.6 88.3 949.7 88.5 947.3 81.8 949.5 79.1 950.3 79.3ZM907.7 71.4 909.2 67.7 914.0 65.6 914.0 65.6 915.0 67.0 914.5 69.6 910.1 73.2ZM975.7 82.6 975.8 85.3 971.4 87.7 970.2 87.5 972.5 81.4ZM954.4 81.9 958.7 76.4 957.8 75.6 955.1 75.0 950.3 79.3 953.1 81.8ZM975.4 74.3 978.4 72.2 978.8 72.2 982.1 73.5 981.6 78.6 978.5 80.2 975.4 76.2ZM893.1 83.5 883.1 89.4 883.2 89.7 892.2 98.0 892.4 97.9 894.3 86.5ZM880.3 128.5 876.3 127.6 875.8 120.0 883.5 120.6 882.6 126.0ZM727.8 136.6 721.5 136.6 719.3 126.5 719.3 126.4 725.8 122.8 731.0 125.9 730.5 131.9ZM957.1 226.3 958.3 222.7 962.9 222.5 968.4 228.2 966.6 235.6 959.6 232.3ZM939.2 249.9 946.3 255.1 952.9 249.6 946.3 244.0 943.2 243.5ZM919.1 139.1 919.7 133.2 931.7 135.3 932.0 136.1 928.7 143.3 920.9 142.1ZM755.2 80.4 758.1 68.7 754.4 62.4 747.6 72.2 754.1 79.9ZM702.7 94.6 702.3 96.8 711.0 100.5 712.2 100.1 713.4 92.1 709.5 91.1ZM964.5 104.6 960.2 106.3 959.7 106.2 958.2 100.6 963.8 96.4 964.7 96.9ZM966.6 235.6 968.4 228.2 972.4 224.9 992.2 250.9 968.6 238.6ZM784.6 88.3 782.0 88.0 775.0 92.3 774.5 93.3 778.3 95.9 782.7 94.1ZM761.8 98.0 765.7 99.6 769.4 98.5 772.7 93.8 766.8 87.0 765.0 86.6 763.3 86.9 761.1 96.3ZM838.8 196.3 832.1 194.1 830.5 203.5 833.7 205.5 840.9 200.6ZM939.2 239.9 930.4 240.9 930.1 241.2 936.9 250.3 939.2 249.9 943.2 243.5 942.5 242.0ZM813.1 158.9 811.8 163.2 819.0 166.5 821.2 166.1 821.9 158.5 815.1 157.4ZM929.7 173.8 924.2 171.4 924.0 170.6 930.7 164.7 935.1 167.8ZM943.1 171.4 943.7 164.3 941.7 160.8 935.3 167.8 938.0 171.2ZM815.8 121.2 816.0 117.1 823.3 114.2 826.6 123.3 823.3 126.1ZM829.8 161.7 824.2 156.4 821.9 158.5 821.2 166.1 821.7 166.4 827.1 166.7ZM806.4 169.9 807.0 166.1 811.8 163.2 819.0 166.5 814.6 175.1 807.7 171.8ZM902.7 135.0 900.6 133.6 895.5 134.7 899.8 140.2 901.3 140.0ZM843.3 187.8 836.9 186.0 831.2 192.9 832.1 194.1 838.8 196.3 843.3 192.4ZM780.7 154.2 779.6 154.9 775.6 153.9 772.7 150.0 773.5 146.5 776.7 144.8 779.4 145.2 782.0 151.0ZM857.8 101.7 862.4 100.8 863.7 102.6 863.5 110.3 858.9 112.8 856.8 111.7 853.8 107.1ZM737.8 135.8 739.2 135.1 739.0 129.0 732.2 125.6 731.0 125.9 730.5 131.9ZM870.1 171.8 866.7 175.4 870.0 180.7 877.6 177.9 877.2 172.2ZM907.9 141.9 913.0 139.5 907.6 135.1 906.0 140.3ZM932.7 122.7 933.1 124.9 931.3 131.9 924.3 127.1 928.4 122.5ZM967.6 195.9 975.8 201.6 971.9 205.2 971.0 205.4 967.7 204.7 963.4 201.2ZM702.3 96.8 711.0 100.5 706.1 109.4 705.6 109.5 699.8 105.6 698.7 101.6ZM953.4 237.6 956.8 245.4 956.9 245.4 968.6 238.6 966.6 235.6 959.6 232.3ZM900.0 105.8 900.1 106.3 899.4 107.8 893.5 109.3 889.4 105.9 889.2 102.1 892.2 98.0 892.4 97.9 893.8 98.0ZM936.9 250.3 932.9 255.6 937.8 260.3 946.3 255.3 946.3 255.1 939.2 249.9ZM845.3 204.6 843.5 203.2 838.5 209.9 845.0 213.8 846.2 206.3ZM757.4 109.4 765.4 112.9 764.9 115.0 757.1 120.4 756.1 120.2 752.4 116.2 755.8 110.2ZM761.1 96.3 763.3 86.9 755.8 82.0 752.9 86.6 755.1 94.0ZM953.6 216.0 956.6 218.8 958.3 222.7 957.1 226.3 949.9 228.1 946.3 222.9 948.9 216.5 949.7 215.9ZM747.5 148.2 753.6 144.5 757.7 148.9 752.4 152.7 747.9 152.0ZM956.1 197.0 956.1 197.3 955.4 198.2 944.4 199.9 943.5 199.4 941.8 196.3 948.2 193.0ZM938.6 190.2 946.1 186.8 946.2 181.7 945.8 181.5 937.3 182.6 937.2 187.9ZM904.0 151.0 903.0 140.9 906.0 140.3 907.9 141.9 908.5 147.9 905.7 150.7ZM941.2 231.3 942.6 224.0 939.6 222.0 933.7 222.7 933.1 223.1 933.5 226.4 938.2 231.3 939.9 231.6ZM914.1 188.7 910.8 192.4 906.1 191.9 904.9 187.5 908.0 180.2 910.4 181.0ZM943.1 171.4 938.0 171.2 936.2 178.7 943.5 176.0 944.8 173.1ZM909.9 105.0 910.0 109.0 901.8 111.3 899.4 107.8 900.1 106.3ZM716.5 147.4 717.1 146.4 716.8 143.8 712.4 142.0 709.2 143.1 708.1 146.9 710.6 149.7ZM939.9 231.6 938.2 231.3 931.8 237.2 930.4 240.9 939.2 239.9ZM762.9 160.9 764.6 160.0 771.1 161.2 775.1 164.2 775.7 166.0 770.1 171.5 765.5 168.6 762.0 161.7ZM906.9 122.6 909.2 120.6 912.5 122.0 914.5 129.1 908.6 130.8 906.4 128.9ZM757.0 102.8 757.4 109.4 755.8 110.2 748.9 107.7 746.0 100.0ZM946.2 181.7 948.8 180.8 952.8 183.4 951.5 187.7 948.6 188.5 946.1 186.8ZM711.3 154.2 702.4 155.2 702.0 148.9 708.1 146.9 710.6 149.7ZM755.1 94.0 752.9 86.6 746.2 89.9 745.9 99.1ZM970.6 217.9 972.0 218.3 973.1 222.4 972.4 224.9 968.4 228.2 962.9 222.5ZM875.2 104.5 879.3 100.2 879.1 98.6 872.9 92.6 872.4 92.6 870.0 95.9 873.0 103.1ZM816.5 178.0 822.8 173.1 821.7 166.4 821.2 166.1 819.0 166.5 814.6 175.1ZM934.3 202.7 939.7 205.7 940.3 209.1 937.3 212.0 937.0 212.0 932.1 204.5 932.1 204.2ZM919.0 180.5 921.8 178.6 922.2 174.5 915.4 174.0 914.3 179.2ZM761.8 98.0 757.0 102.8 746.0 100.0 745.7 99.7 745.9 99.1 755.1 94.0 761.1 96.3ZM972.4 224.9 973.1 222.4 1321.9 320.6 1304.8 337.1 993.6 251.8 992.2 250.9ZM907.3 134.0 908.6 130.8 906.4 128.9 901.8 127.9 901.5 128.1 900.6 133.6 902.7 135.0ZM957.8 192.2 958.3 191.7 958.0 181.8 952.8 183.4 951.5 187.7ZM932.1 133.8 931.3 131.9 924.3 127.1 921.3 128.8 919.3 131.1 919.7 133.2 931.7 135.3ZM827.1 166.7 821.7 166.4 822.8 173.1 829.3 175.5 831.5 171.8ZM698.5 146.2 682.5 147.6 691.2 136.2 693.5 135.9 701.5 139.1ZM882.7 235.3 880.6 235.8 852.6 250.4 851.5 251.5 840.9 270.2 894.8 244.4 891.6 238.2ZM924.2 190.5 923.8 190.6 918.9 188.2 919.0 180.5 921.8 178.6 927.1 182.4 926.4 187.9ZM970.0 255.4 993.6 251.8 992.2 250.9 968.6 238.6 956.9 245.4ZM956.1 197.3 963.2 201.2 959.2 208.6 956.2 209.5 953.5 204.5 955.4 198.2ZM910.4 181.0 908.0 180.2 907.4 179.6 906.7 176.9 913.6 171.3 915.4 174.0 914.3 179.2ZM840.9 270.2 770.8 374.9 658.1 565.4 758.5 712.8 895.4 276.9 898.6 245.5 894.8 244.4ZM698.7 101.6 699.8 105.6 693.9 111.2 688.6 109.9 688.1 104.2 697.8 101.2ZM1001.6 157.9 1068.9 150.8 967.7 194.1 964.2 190.4 970.8 177.0ZM935.8 147.2 932.9 148.1 928.7 143.3 932.0 136.1 937.1 137.8ZM894.1 133.9 890.4 130.1 890.3 128.1 892.6 123.0 893.1 122.8 898.3 128.1ZM897.3 229.6 893.2 221.7 891.7 221.1 889.4 222.6 888.1 230.9ZM947.7 172.8 950.4 177.2 955.8 176.4 954.6 170.5 950.6 169.7ZM941.5 231.4 945.2 236.5 942.5 242.0 939.2 239.9 939.9 231.6 941.2 231.3ZM952.8 183.4 958.0 181.8 959.7 179.5 955.8 176.4 950.4 177.2 948.8 180.8ZM938.0 171.2 935.3 167.8 935.1 167.8 929.7 173.8 932.1 178.5 935.6 179.3 936.2 178.7ZM951.7 237.2 946.3 244.0 952.9 249.6 952.9 249.6 956.8 245.4 953.4 237.6ZM885.2 70.8 880.7 58.5 860.0 16.5 867.7 75.7 878.3 87.4 881.2 87.9ZM952.9 249.6 960.1 259.0 961.1 259.3 970.0 255.4 956.9 245.4 956.8 245.4ZM906.0 140.3 907.6 135.1 907.3 134.0 902.7 135.0 901.3 140.0 903.0 140.9ZM957.8 192.2 958.3 191.7 964.2 190.4 967.7 194.1 967.6 195.9 963.4 201.2 963.2 201.2 956.1 197.3 956.1 197.0ZM699.8 105.6 705.6 109.5 701.7 118.4 695.3 118.4 693.9 111.2ZM699.1 89.0 696.7 88.2 695.0 86.7 581.3 -227.5 607.2 -251.9 687.6 -24.7 704.1 84.0ZM897.3 229.6 888.1 230.9 882.7 235.3 891.6 238.2 896.5 234.6 898.1 230.0ZM853.6 154.6 847.0 148.8 848.2 145.6 855.0 146.0 856.7 151.6ZM726.1 150.2 727.1 148.0 728.7 146.4 737.1 148.1 738.0 152.1 725.1 172.2 724.8 170.8ZM870.1 171.8 866.7 175.4 864.9 175.4 861.6 172.4 863.2 168.3 867.8 168.6ZM866.7 175.4 864.9 175.4 862.0 180.3 865.5 184.0 868.5 183.5 870.0 180.7ZM785.5 87.9 786.4 86.8 785.7 81.1 776.6 76.1 776.2 76.3 775.5 82.5 782.0 88.0 784.6 88.3ZM883.3 112.1 875.4 110.0 872.3 113.2 872.1 116.4 875.8 120.0 883.5 120.6 885.6 118.6 885.6 117.4ZM879.3 100.2 879.1 98.6 883.2 89.7 892.2 98.0 889.2 102.1ZM865.5 184.0 863.4 187.3 858.5 187.3 856.3 185.8 856.5 180.2 862.0 180.3ZM788.3 150.0 789.3 148.1 787.0 142.0 786.1 141.4 779.4 145.2 782.0 151.0ZM821.8 198.5 825.6 194.3 830.1 192.5 831.2 192.9 832.1 194.1 830.5 203.5 826.6 205.5 823.8 203.6ZM885.6 117.4 885.6 118.6 892.6 123.0 893.1 122.8 898.0 118.5 893.8 113.2ZM715.4 111.2 716.5 109.4 716.4 102.5 712.2 100.1 711.0 100.5 706.1 109.4 711.5 111.7ZM785.7 81.1 812.6 57.1 834.0 -24.0 835.5 -37.1 776.6 76.1ZM743.2 87.4 738.6 87.3 728.2 72.2 728.3 70.1 736.6 72.6 744.9 81.3ZM949.0 229.6 949.9 228.1 957.1 226.3 959.6 232.3 953.4 237.6 951.7 237.2 950.6 236.4ZM883.3 112.1 889.4 105.9 893.5 109.3 893.8 113.2 885.6 117.4ZM863.3 152.3 867.0 146.1 865.0 138.7 864.6 138.5 855.0 146.0 856.7 151.6ZM893.1 83.5 883.1 89.4 881.2 87.9 885.2 70.8 893.3 82.6ZM919.0 148.1 920.9 142.1 919.1 139.1 915.4 139.8 909.4 147.6 918.7 148.5ZM968.1 214.7 971.0 205.4 967.7 204.7 963.6 210.5 964.8 213.4ZM953.5 204.5 947.6 205.8 945.9 209.5 949.7 215.9 953.6 216.0 956.2 209.5ZM943.5 176.0 945.8 181.5 937.3 182.6 935.6 179.3 936.2 178.7ZM958.3 191.7 964.2 190.4 970.8 177.0 959.7 179.5 958.0 181.8ZM927.9 108.4 931.3 100.3 927.2 98.4 922.1 98.3 920.9 98.7 920.0 99.1 918.7 101.0 920.7 105.7 927.4 108.7ZM864.5 138.3 851.6 137.7 849.7 131.0 852.6 129.0 864.0 137.0ZM842.5 139.4 841.7 133.4 846.9 130.7 849.7 131.0 851.6 137.7 847.1 142.2ZM941.5 231.4 949.0 229.6 949.9 228.1 946.3 222.9 942.6 224.0 941.2 231.3ZM711.4 82.8 710.8 33.7 728.3 70.1 728.2 72.2 725.7 80.0 722.1 86.0 718.7 88.0ZM939.6 222.0 933.7 222.7 937.7 213.4 941.5 216.7ZM963.2 201.2 963.4 201.2 967.7 204.7 963.6 210.5 959.2 208.6ZM829.8 161.7 824.2 156.4 825.9 150.3 832.0 149.8 833.4 150.5 835.1 153.7 834.8 157.2 832.3 161.2ZM879.1 98.6 872.9 92.6 878.3 87.4 881.2 87.9 883.1 89.4 883.2 89.7ZM874.8 128.2 866.3 122.7 872.1 116.4 875.8 120.0 876.3 127.6ZM830.5 203.5 826.6 205.5 823.2 231.4 836.1 210.5 833.7 205.5ZM941.5 231.4 949.0 229.6 950.6 236.4 945.2 236.5ZM957.8 192.2 951.5 187.7 948.6 188.5 948.2 193.0 956.1 197.0ZM862.0 180.3 856.5 180.2 855.8 179.4 860.6 172.7 861.6 172.4 864.9 175.4ZM896.5 234.6 900.6 241.6 899.5 244.9 898.6 245.5 894.8 244.4 891.6 238.2ZM898.6 96.8 902.0 90.9 901.7 90.4 894.3 86.5 892.4 97.9 893.8 98.0ZM843.5 203.2 838.5 209.9 836.1 210.5 833.7 205.5 840.9 200.6 843.2 202.6ZM931.0 222.0 929.2 219.4 931.7 213.0 937.0 212.0 937.3 212.0 937.7 213.4 933.7 222.7 933.1 223.1ZM815.1 157.4 821.9 158.5 824.2 156.4 825.9 150.3 821.0 146.1 819.1 145.5 816.0 145.9 815.9 146.2ZM702.7 94.6 702.3 96.8 698.7 101.6 697.8 101.2 692.2 96.3 696.7 88.2 699.1 89.0ZM944.8 173.1 947.7 172.8 950.4 177.2 948.8 180.8 946.2 181.7 945.8 181.5 943.5 176.0ZM936.9 195.7 934.3 202.7 939.7 205.7 943.5 199.4 941.8 196.3 938.8 194.5ZM954.6 170.5 974.4 155.7 979.9 155.3 1001.6 157.9 970.8 177.0 959.7 179.5 955.8 176.4ZM726.1 150.2 727.1 148.0 720.0 141.0 716.8 143.8 717.1 146.4ZM945.2 236.5 950.6 236.4 951.7 237.2 946.3 244.0 943.2 243.5 942.5 242.0ZM946.0 119.3 951.5 118.5 952.0 129.2 945.5 129.4ZM954.4 107.9 950.4 102.6 951.9 99.0 955.0 99.1 958.2 100.6 959.7 106.2 956.1 108.5ZM682.1 94.5 678.3 94.8 647.6 87.5 354.9 -21.7 581.3 -227.5 695.0 86.7ZM883.9 222.5 880.7 219.2 875.1 221.1 862.6 233.7 852.6 250.4 880.6 235.8ZM775.0 92.3 774.7 83.5 766.8 87.0 772.7 93.8 774.5 93.3ZM906.9 122.6 906.4 128.9 901.8 127.9 901.6 122.4ZM907.2 248.8 906.4 256.5 895.4 276.9 898.6 245.5 899.5 244.9 905.8 246.8ZM939.6 222.0 941.5 216.7 948.9 216.5 946.3 222.9 942.6 224.0ZM788.8 157.8 780.7 154.2 782.0 151.0 788.3 150.0 789.7 157.5ZM848.2 145.6 855.0 146.0 864.6 138.5 864.5 138.3 851.6 137.7 847.1 142.2ZM707.7 85.8 711.4 82.8 710.8 33.7 687.6 -24.7 704.1 84.0ZM812.8 125.0 812.9 124.9 815.8 121.2 816.0 117.1 813.0 114.6 806.6 115.2 803.2 121.7 804.6 122.9ZM851.5 194.3 850.9 195.0 843.3 192.4 843.3 187.8 846.2 184.8 846.6 184.7 851.9 188.5ZM941.6 100.8 943.2 99.0 946.2 97.3 951.7 98.8 951.9 99.0 950.4 102.6 945.5 105.4ZM696.7 88.2 695.0 86.7 682.1 94.5 692.2 96.3ZM888.1 230.9 889.4 222.6 883.9 222.5 880.6 235.8 882.7 235.3ZM697.8 101.2 688.1 104.2 678.3 94.8 682.1 94.5 692.2 96.3ZM932.1 204.5 937.0 212.0 931.7 213.0 927.6 209.5 927.6 209.4Z"/>
<path fill="#f68262" d="M894.3 54.6 892.1 51.7 913.9 65.5 914.0 65.6 909.2 67.7ZM989.9 47.2 990.8 46.9 994.2 49.0 994.7 50.5 989.5 55.2 989.2 54.6ZM941.7 78.3 945.1 76.8 944.3 71.3 941.0 72.1 937.2 76.0 937.4 76.4ZM987.8 47.0 987.0 46.0 987.4 39.4 989.9 39.7 991.3 45.6 990.8 46.9 989.9 47.2ZM991.6 59.4 985.7 63.7 988.4 66.6 991.8 63.1ZM968.7 79.7 966.9 86.9 967.6 87.7 968.2 87.8 970.2 87.5 972.5 81.4 971.3 80.0 969.4 79.5ZM996.5 42.2 998.0 43.2 1001.6 40.1 1002.7 32.9 995.3 39.0ZM975.2 91.7 970.5 94.4 969.9 96.1 1039.1 126.1 987.7 94.6 985.0 93.4ZM935.5 88.8 934.1 88.4 928.9 89.5 933.1 95.4 936.3 90.6ZM991.6 59.4 991.8 58.7 1185.1 133.8 1263.8 168.5 1158.0 156.1 1002.6 73.0 991.8 63.1ZM971.4 87.7 975.2 91.7 970.5 94.4 968.2 87.8 970.2 87.5ZM994.7 50.5 994.2 49.0 999.0 45.4 1014.3 54.3 1018.2 57.1 997.7 53.3ZM907.7 71.4 909.2 67.7 894.3 54.6 903.2 69.9 907.1 71.4ZM985.1 71.9 988.7 67.7 988.4 66.6 985.7 63.7 984.5 63.3 982.1 65.8ZM989.5 55.2 994.7 50.5 997.7 53.3 991.6 58.0 989.6 56.1ZM969.7 40.9 972.1 31.7 980.0 46.9 979.9 47.4 979.8 47.4 975.3 48.9 973.7 47.9ZM992.4 38.3 989.9 39.7 991.3 45.6 996.5 42.2 995.3 39.0 993.4 38.3ZM991.8 63.1 1002.6 73.0 988.7 67.7 988.4 66.6ZM997.7 53.3 1018.2 57.1 1185.1 133.8 991.8 58.7 991.6 58.0ZM989.2 54.6 989.5 55.2 989.6 56.1 986.3 57.2 982.0 54.4 984.4 51.1ZM745.9 99.1 746.2 89.9 743.2 87.4 738.6 87.3 735.2 93.5 739.7 101.2 745.7 99.7ZM816.8 133.1 808.3 136.3 810.4 141.1 816.0 145.9 819.1 145.5 820.3 135.9ZM854.3 89.2 839.4 44.7 834.0 -24.0 835.5 -37.1 835.8 -38.8 859.9 16.3 860.0 16.5 867.7 75.7 866.1 82.8ZM916.4 165.5 912.5 160.7 910.7 161.2 906.8 165.3 907.8 168.4 913.6 169.2ZM870.3 161.9 870.0 161.1 870.4 160.0 877.3 153.1 879.0 168.9ZM953.7 152.9 957.2 154.1 949.8 167.2 943.7 164.3 941.7 160.8 941.7 160.4 947.4 154.7ZM907.8 168.4 903.7 173.2 900.0 172.1 896.6 166.9 899.6 162.8 906.8 165.3ZM761.8 98.0 765.7 99.6 766.8 112.0 765.4 112.9 757.4 109.4 757.0 102.8ZM735.2 93.5 738.6 87.3 728.2 72.2 725.7 80.0 733.6 93.1ZM844.5 168.2 841.7 168.8 840.3 169.9 841.2 174.7 850.7 179.0 852.9 178.0 852.7 176.7ZM766.8 112.0 771.6 111.8 771.9 111.7 774.2 102.8 769.4 98.5 765.7 99.6ZM939.8 300.7 941.6 277.2 937.8 260.3 932.9 255.6 923.7 258.0 775.6 739.0 838.2 840.1 934.9 333.3ZM702.0 148.9 702.4 155.2 552.1 462.6 393.3 333.6 632.9 175.7 682.5 147.6 698.5 146.2ZM807.7 154.2 803.1 158.4 797.5 155.5 798.5 148.7 799.0 148.0 801.5 148.0 807.8 152.0ZM972.0 218.3 976.9 215.0 1307.4 175.5 1452.5 196.0 1321.9 320.6 973.1 222.4ZM958.3 222.7 962.9 222.5 970.6 217.9 968.1 214.7 964.8 213.4 956.6 218.8ZM737.1 148.1 738.0 152.1 746.8 153.2 747.9 152.0 747.5 148.2 747.4 148.2 740.0 144.1 739.7 144.2ZM870.1 171.8 877.2 172.2 879.1 169.2 879.1 169.1 879.0 168.9 870.3 161.9 867.8 168.6ZM755.2 80.4 755.5 80.8 755.8 82.0 752.9 86.6 746.2 89.9 743.2 87.4 744.9 81.3 754.1 79.9ZM709.8 121.1 714.7 121.9 719.3 126.4 719.3 126.5 712.3 130.3 707.3 122.6ZM906.8 165.3 899.6 162.8 900.5 157.9 910.7 161.2ZM939.8 300.7 941.6 277.2 947.7 259.7 955.5 261.1ZM688.1 104.2 678.3 94.8 647.6 87.5 684.3 112.7 688.6 109.9ZM769.1 136.2 769.1 143.5 773.5 146.5 776.7 144.8 775.9 137.0 774.0 135.9ZM755.3 165.2 724.1 238.9 709.2 262.1 725.2 172.7 745.9 159.0ZM739.7 144.2 740.0 144.1 743.9 139.5 743.7 136.1 739.2 135.1 737.8 135.8 736.3 140.3ZM747.6 72.2 754.4 62.4 731.6 -386.7 607.2 -251.9 687.6 -24.7 710.8 33.7 728.3 70.1 736.6 72.6ZM967.6 195.9 975.8 201.6 1100.0 150.7 1085.0 148.6 1068.9 150.8 967.7 194.1ZM919.9 165.4 924.0 159.3 930.1 162.8 930.7 164.7 924.0 170.6ZM684.3 114.9 675.1 120.7 167.2 166.5 146.9 151.8 354.9 -21.7 647.6 87.5 684.3 112.7ZM709.8 121.1 711.5 111.7 715.4 111.2 717.6 114.0 714.7 121.9ZM739.2 135.1 739.0 129.0 743.9 128.1 746.8 131.7 746.3 133.4 743.7 136.1ZM970.6 217.9 972.0 218.3 976.9 215.0 971.9 205.2 971.0 205.4 968.1 214.7ZM879.1 169.1 886.6 156.3 892.2 167.0 888.5 170.1 879.1 169.2ZM736.1 111.4 737.8 109.0 746.4 112.7 747.8 116.5 745.1 120.1 737.2 115.0ZM975.8 201.6 971.9 205.2 976.9 215.0 1307.4 175.5 1263.8 168.5 1158.0 156.1 1100.0 150.7ZM927.9 108.4 931.3 100.3 932.3 100.1 935.6 101.1 937.6 111.5ZM945.9 209.5 940.3 209.1 937.3 212.0 937.7 213.4 941.5 216.7 948.9 216.5 949.7 215.9ZM800.6 107.9 801.0 108.1 806.6 115.2 803.2 121.7 793.7 123.7 792.6 123.6 792.2 118.3ZM747.9 152.0 752.4 152.7 758.6 162.6 755.3 165.2 745.9 159.0 746.8 153.2ZM721.3 136.8 721.5 136.6 719.3 126.5 712.3 130.3 711.1 132.8 713.7 135.8ZM847.0 93.4 840.3 88.6 838.2 76.6 839.4 44.7 854.3 89.2 854.2 90.8ZM934.9 333.3 838.2 840.1 841.6 846.0 1122.6 535.4 961.2 261.6ZM775.2 130.0 780.1 130.3 780.5 135.4 775.9 137.0 774.0 135.9ZM808.3 136.3 807.3 135.5 807.2 135.4 797.8 138.8 797.4 139.7 799.0 148.0 801.5 148.0 810.4 141.1ZM854.0 166.9 854.9 169.6 860.6 172.7 861.6 172.4 863.2 168.3 861.1 164.4ZM791.7 124.6 784.5 124.6 780.1 130.3 780.5 135.4 785.3 137.7 791.6 127.9ZM754.1 79.9 747.6 72.2 736.6 72.6 744.9 81.3ZM739.0 129.0 732.2 125.6 733.7 124.1 744.8 121.4 743.9 128.1ZM782.7 101.1 787.5 104.2 784.3 108.6 780.1 106.0 779.4 102.1 779.8 101.6ZM709.2 143.1 706.2 139.7 710.1 133.0 711.1 132.8 713.7 135.8 712.4 142.0ZM736.3 140.3 737.8 135.8 730.5 131.9 727.8 136.6 729.8 140.5ZM719.3 126.4 725.8 122.8 725.2 118.2 725.2 118.2 717.6 114.0 714.7 121.9ZM838.2 76.6 839.4 44.7 834.0 -24.0 812.6 57.1 811.5 65.0 814.5 83.9 817.0 88.3 822.2 92.0 827.6 91.5ZM893.3 82.6 885.2 70.8 880.7 58.5 900.7 75.7 901.3 78.3 898.4 80.8ZM737.1 148.1 728.7 146.4 729.8 140.5 736.3 140.3 739.7 144.2ZM936.9 195.7 930.2 195.3 924.2 190.5 926.4 187.9 937.2 187.9 938.6 190.2 938.8 194.5ZM834.1 117.6 832.0 123.5 826.6 123.3 823.3 114.2 824.5 112.8 830.6 113.6ZM720.1 100.2 716.4 102.5 712.2 100.1 713.4 92.1 716.6 90.8 720.5 98.2ZM919.9 165.4 916.4 165.5 913.6 169.2 913.6 171.3 915.4 174.0 922.2 174.5 924.2 171.4 924.0 170.6ZM746.0 100.0 748.9 107.7 746.4 112.7 737.8 109.0 738.9 102.2 739.7 101.2 745.7 99.7ZM952.9 249.6 960.1 259.0 955.5 261.1 947.7 259.7 946.3 255.3 946.3 255.1 952.9 249.6ZM899.6 162.8 900.5 157.9 900.1 154.7 886.2 152.2 886.6 156.3 892.2 167.0 896.6 166.9ZM709.5 91.1 713.4 92.1 716.6 90.8 718.7 88.0 711.4 82.8 707.7 85.8ZM816.5 198.3 821.8 198.5 823.8 203.6 813.7 208.3ZM852.2 165.9 855.1 158.2 860.4 159.2 861.9 162.4 861.1 164.4 854.0 166.9ZM771.9 111.7 774.2 102.8 779.4 102.1 780.1 106.0 775.3 111.8ZM935.3 167.8 941.7 160.8 941.7 160.4 935.2 157.4 930.1 162.8 930.7 164.7 935.1 167.8ZM736.1 111.4 737.8 109.0 738.9 102.2 728.8 102.0 726.1 104.4 725.8 106.1 733.1 111.8ZM799.5 92.9 803.0 95.4 805.6 95.4 814.5 83.9 811.5 65.0 802.3 78.6ZM731.0 125.9 725.8 122.8 725.2 118.2 733.1 111.8 736.1 111.4 737.2 115.0 733.7 124.1 732.2 125.6ZM913.6 169.2 913.6 171.3 906.7 176.9 903.7 173.2 907.8 168.4ZM762.0 161.7 765.5 168.6 733.0 227.7 724.1 238.9 755.3 165.2 758.6 162.6ZM938.8 194.5 941.8 196.3 948.2 193.0 948.6 188.5 946.1 186.8 938.6 190.2ZM718.3 161.2 724.8 170.8 725.1 172.2 725.2 172.7 709.2 262.1 609.9 511.1 552.1 462.6 702.4 155.2 711.3 154.2ZM814.5 103.9 813.6 102.1 808.0 99.8 800.3 107.1 800.6 107.9 801.0 108.1 813.4 105.9ZM755.8 110.2 752.4 116.2 747.8 116.5 746.4 112.7 748.9 107.7ZM720.5 98.2 716.6 90.8 718.7 88.0 722.1 86.0 727.2 94.9 727.1 95.2ZM774.5 93.3 778.3 95.9 779.8 101.6 779.4 102.1 774.2 102.8 769.4 98.5 772.7 93.8ZM863.3 152.3 867.0 146.1 877.6 152.6 877.3 153.1 870.4 160.0 863.3 152.6ZM744.9 121.2 752.0 125.1 756.1 120.2 752.4 116.2 747.8 116.5 745.1 120.1ZM775.3 111.8 779.4 114.3 785.0 112.3 784.3 108.6 780.1 106.0ZM791.8 103.4 789.1 114.4 792.2 118.3 800.6 107.9 800.3 107.1 798.0 104.4 793.4 102.3ZM728.7 146.4 727.1 148.0 720.0 141.0 721.3 136.8 721.5 136.6 727.8 136.6 729.8 140.5ZM816.8 133.1 817.2 130.6 812.9 124.9 812.8 125.0 807.3 135.5 808.3 136.3ZM766.8 87.0 765.0 86.6 768.7 77.2 771.8 75.7 776.2 76.3 775.5 82.5 774.7 83.5ZM707.3 122.6 705.2 122.7 701.4 129.2 702.5 130.7 710.1 133.0 711.1 132.8 712.3 130.3ZM708.1 146.9 702.0 148.9 698.5 146.2 701.5 139.1 701.5 139.1 706.2 139.7 709.2 143.1ZM937.2 187.9 937.3 182.6 935.6 179.3 932.1 178.5 927.1 182.4 926.4 187.9ZM709.8 121.1 711.5 111.7 706.1 109.4 705.6 109.5 701.7 118.4 705.2 122.7 707.3 122.6ZM943.1 171.4 943.7 164.3 949.8 167.2 950.6 169.7 947.7 172.8 944.8 173.1ZM733.6 93.1 725.7 80.0 722.1 86.0 727.2 94.9ZM813.7 208.3 739.1 319.1 629.6 531.8 658.1 565.4 770.8 374.9 823.2 231.4 826.6 205.5 823.8 203.6ZM775.7 166.0 770.1 171.5 771.2 183.3 779.3 179.3 776.0 166.3ZM785.4 97.3 782.7 101.1 779.8 101.6 778.3 95.9 782.7 94.1ZM718.3 161.2 724.8 170.8 726.1 150.2 717.1 146.4 716.5 147.4ZM712.4 142.0 713.7 135.8 721.3 136.8 720.0 141.0 716.8 143.8ZM950.6 169.7 949.8 167.2 957.2 154.1 974.4 155.7 954.6 170.5ZM943.5 199.4 944.4 199.9 947.6 205.8 945.9 209.5 940.3 209.1 939.7 205.7ZM733.7 124.1 744.8 121.4 744.9 121.2 745.1 120.1 737.2 115.0ZM851.5 251.5 851.1 226.3 845.0 213.8 838.5 209.9 836.1 210.5 823.2 231.4 770.8 374.9 840.9 270.2ZM701.5 139.1 702.5 130.7 710.1 133.0 706.2 139.7ZM861.1 164.4 863.2 168.3 867.8 168.6 870.3 161.9 870.0 161.1 861.9 162.4Z"/>
<path fill="#ee593c" d="M1185.1 133.8 1263.8 168.5 1307.4 175.5 1452.5 196.0 1521.8 151.8 1158.2 -207.9 1002.7 32.9 1001.6 40.1 1014.3 54.3 1018.2 57.1ZM910.3 73.9 910.1 73.2 907.7 71.4 907.1 71.4 903.5 78.5 905.2 79.2ZM950.3 79.3 949.5 79.1 949.1 78.5 949.5 72.2 951.9 71.2 952.6 71.4 955.1 75.0ZM987.8 47.0 984.4 50.3 984.4 51.1 989.2 54.6 989.9 47.2ZM936.2 57.8 936.7 57.1 936.8 53.0 928.8 58.0 928.8 59.7 931.6 61.7ZM998.0 43.2 1001.6 40.1 1014.3 54.3 999.0 45.4ZM955.1 75.0 952.6 71.4 956.3 68.9 958.7 69.8 957.8 75.6ZM949.5 65.9 948.3 58.4 953.1 60.6 954.0 64.7 951.0 66.4ZM989.6 56.1 991.6 58.0 991.8 58.7 991.6 59.4 985.7 63.7 984.5 63.3 983.7 61.3 986.3 57.2ZM931.3 100.3 927.2 98.4 928.4 89.4 928.9 89.5 933.1 95.4 932.3 100.1ZM957.2 59.2 959.0 63.6 955.4 65.4 954.0 64.7 953.1 60.6 956.6 59.0ZM990.8 46.9 991.3 45.6 996.5 42.2 998.0 43.2 999.0 45.4 994.2 49.0ZM992.4 38.3 959.5 -37.8 842.8 -532.8 1066.5 -301.9 993.4 38.3ZM993.4 38.3 1066.5 -301.9 1158.2 -207.9 1002.7 32.9 995.3 39.0ZM987.8 47.0 987.0 46.0 983.4 44.2 980.0 46.9 979.9 47.4 984.4 50.3ZM980.0 46.9 972.1 31.7 972.6 24.7 983.4 37.5 983.4 44.2ZM905.5 91.8 908.2 85.1 911.7 91.3 907.7 92.3ZM983.4 37.5 972.6 24.7 959.5 -37.8 992.4 38.3 989.9 39.7 987.4 39.4ZM985.0 72.4 1024.1 105.0 1081.7 147.2 1085.0 148.6 1100.0 150.7 1158.0 156.1 1002.6 73.0 988.7 67.7 985.1 71.9ZM987.0 46.0 987.4 39.4 983.4 37.5 983.4 44.2ZM951.0 66.4 954.0 64.7 955.4 65.4 956.3 68.9 952.6 71.4 951.9 71.2ZM945.2 70.4 949.5 72.2 951.9 71.2 951.0 66.4 949.5 65.9 945.2 67.8 945.2 67.8ZM928.1 201.1 922.9 201.9 927.6 209.4 932.1 204.5 932.1 204.2ZM804.7 170.5 796.4 169.2 794.8 178.2 794.9 178.4 797.3 178.1ZM880.9 129.9 876.6 138.3 869.4 137.2 874.8 128.2 876.3 127.6 880.3 128.5ZM792.3 97.8 793.4 102.3 798.0 104.4 803.0 95.4 799.5 92.9 794.8 94.0ZM916.6 242.2 922.6 243.9 922.5 254.8 914.3 252.6 911.6 248.5ZM874.0 214.2 875.1 221.1 880.7 219.2 882.7 214.3 880.4 211.2 878.2 211.0ZM768.7 77.2 763.6 76.3 755.5 80.8 755.8 82.0 763.3 86.9 765.0 86.6ZM879.1 169.1 886.6 156.3 886.2 152.2 884.7 150.5 884.6 150.5 877.6 152.6 877.3 153.1 879.0 168.9ZM793.3 183.9 785.4 184.1 786.4 201.1 788.5 197.9ZM806.8 134.7 793.7 123.7 792.6 123.6 791.7 124.6 791.6 127.9 797.8 138.8 807.2 135.4ZM853.6 154.6 847.0 148.8 846.7 149.1 844.1 155.7 847.9 158.3 853.5 155.9ZM873.1 206.7 872.9 204.7 878.2 199.5 880.2 200.6 882.1 205.7 880.4 211.2 878.2 211.0ZM794.1 183.3 793.3 183.9 785.4 184.1 780.8 179.1 783.8 176.5 789.1 175.6 794.8 178.2 794.9 178.4ZM762.9 70.1 767.1 68.7 831.6 -116.4 829.2 -192.7 825.3 -251.1 799.4 -463.0 731.6 -386.7 754.4 62.4 758.1 68.7ZM807.8 152.0 801.5 148.0 810.4 141.1 816.0 145.9 815.9 146.2ZM789.1 114.4 785.0 112.3 779.4 114.3 780.0 122.1 784.5 124.6 791.7 124.6 792.6 123.6 792.2 118.3ZM766.8 112.0 771.6 111.8 774.9 122.9 772.5 124.7 767.4 123.2 764.9 115.0 765.4 112.9ZM799.8 188.0 799.8 188.2 788.5 197.9 793.3 183.9 794.1 183.3ZM861.9 162.4 870.0 161.1 870.4 160.0 863.3 152.6 860.4 159.2ZM946.3 255.3 937.8 260.3 941.6 277.2 947.7 259.7ZM798.0 104.4 803.0 95.4 805.6 95.4 808.0 99.8 800.3 107.1ZM840.3 88.6 835.1 97.0 827.6 91.5 838.2 76.6ZM836.0 107.1 837.0 100.1 835.1 97.3 824.8 102.7 824.7 102.9 834.4 107.8ZM867.4 199.0 860.3 200.6 859.6 195.3 865.2 192.6 867.4 193.4 868.6 195.9ZM804.6 122.9 803.2 121.7 793.7 123.7 806.8 134.7ZM830.6 113.6 824.5 112.8 823.2 104.6 824.7 102.9 834.4 107.8ZM903.2 69.9 900.7 75.7 880.7 58.5 860.0 16.5 859.9 16.3 892.1 51.7 894.3 54.6ZM805.0 181.6 806.3 184.3 799.8 188.0 794.1 183.3 794.9 178.4 797.3 178.1ZM780.5 135.4 775.9 137.0 776.7 144.8 779.4 145.2 786.1 141.4 785.3 137.7ZM813.1 158.9 807.7 154.2 807.8 152.0 815.9 146.2 815.1 157.4ZM771.8 75.7 767.1 68.7 762.9 70.1 763.6 76.3 768.7 77.2ZM862.3 93.9 866.3 86.5 872.4 92.6 870.0 95.9 863.3 96.4ZM757.1 120.4 761.8 128.5 767.4 123.2 764.9 115.0ZM756.1 120.2 752.0 125.1 752.7 129.4 760.1 133.2 760.5 132.9 761.8 128.5 757.1 120.4ZM926.7 114.1 936.6 115.2 938.5 112.7 937.6 111.5 927.9 108.4 927.4 108.7 926.4 113.1ZM767.1 134.6 760.5 132.9 761.8 128.5 767.4 123.2 772.5 124.7 772.8 126.8ZM738.0 152.1 746.8 153.2 745.9 159.0 725.2 172.7 725.1 172.2ZM863.3 96.4 870.0 95.9 873.0 103.1 863.7 102.6 862.4 100.8ZM921.2 228.2 919.3 224.9 910.7 225.0 911.2 229.5 916.5 231.9 921.2 229.1ZM898.1 230.0 900.9 229.6 903.8 232.5 902.7 239.5 900.6 241.6 896.5 234.6ZM855.1 158.2 853.5 155.9 853.6 154.6 856.7 151.6 863.3 152.3 863.3 152.6 860.4 159.2ZM926.7 114.1 925.9 118.2 928.4 122.5 932.7 122.7 934.5 121.5 936.6 115.2ZM936.9 195.7 934.3 202.7 932.1 204.2 928.1 201.1 930.2 195.3ZM862.5 207.6 858.4 206.6 858.3 205.9 860.3 200.6 867.4 199.0 868.7 203.5ZM824.8 102.7 822.2 92.0 827.6 91.5 835.1 97.0 835.1 97.3ZM772.8 126.8 772.5 124.7 774.9 122.9 780.0 122.1 784.5 124.6 780.1 130.3 775.2 130.0ZM845.3 204.6 843.5 203.2 843.2 202.6 850.8 195.1 853.3 201.9ZM688.6 109.9 684.3 112.7 684.3 114.9 686.6 118.7 693.9 119.8 695.3 118.4 693.9 111.2ZM911.1 239.9 905.8 246.8 907.2 248.8 911.6 248.5 916.6 242.2 913.2 239.4 912.2 239.3ZM907.2 248.8 906.4 256.5 914.3 252.6 911.6 248.5ZM843.3 192.4 838.8 196.3 840.9 200.6 843.2 202.6 850.8 195.1 850.9 195.0ZM794.8 94.0 799.5 92.9 802.3 78.6 792.1 87.1ZM961.1 259.3 970.0 255.4 993.6 251.8 1304.8 337.1 1122.6 535.4 961.2 261.6ZM799.8 188.2 802.7 195.4 800.8 203.8 763.9 265.5 786.4 201.1 788.5 197.9ZM869.5 211.9 867.2 212.7 862.6 233.7 875.1 221.1 874.0 214.2ZM841.7 168.8 840.3 169.9 839.0 169.8 832.3 161.2 834.8 157.2 840.9 162.5ZM829.8 161.7 827.1 166.7 831.5 171.8 839.0 169.8 832.3 161.2ZM832.0 149.8 825.9 150.3 821.0 146.1 828.4 138.1 831.7 138.3 833.3 140.6ZM878.2 199.5 872.9 204.7 868.7 203.5 867.4 199.0 868.6 195.9 877.5 197.8ZM854.9 91.5 862.3 93.9 866.3 86.5 866.1 82.8 854.3 89.2 854.2 90.8ZM804.8 163.7 803.1 158.4 807.7 154.2 813.1 158.9 811.8 163.2 807.0 166.1ZM852.6 250.4 862.6 233.7 867.2 212.7 862.5 207.6 858.4 206.6 855.7 210.4 851.1 226.3 851.5 251.5ZM840.9 162.5 834.8 157.2 835.1 153.7 843.9 155.8ZM798.5 148.7 789.3 148.1 787.0 142.0 797.4 139.7 799.0 148.0ZM851.1 226.3 845.0 213.8 846.2 206.3 855.7 210.4ZM776.2 76.3 776.6 76.1 835.5 -37.1 835.8 -38.8 831.6 -116.4 767.1 68.7 771.8 75.7ZM939.8 300.7 955.5 261.1 960.1 259.0 961.1 259.3 961.2 261.6 934.9 333.3ZM922.7 230.8 925.1 241.8 922.6 243.9 916.6 242.2 913.2 239.4 916.5 231.9 921.2 229.1ZM846.7 149.1 837.6 148.4 833.4 150.5 835.1 153.7 843.9 155.8 844.1 155.7ZM852.2 165.9 848.8 165.8 847.9 158.3 853.5 155.9 855.1 158.2ZM728.8 102.0 738.9 102.2 739.7 101.2 735.2 93.5 733.6 93.1 727.2 94.9 727.1 95.2ZM884.4 214.1 882.7 214.3 880.4 211.2 882.1 205.7 891.4 207.4ZM758.7 136.6 760.1 133.2 760.5 132.9 767.1 134.6 769.1 136.2 769.1 143.5 766.1 144.4 761.2 142.4ZM771.9 111.7 771.6 111.8 774.9 122.9 780.0 122.1 779.4 114.3 775.3 111.8ZM858.4 206.6 858.3 205.9 853.3 201.9 845.3 204.6 846.2 206.3 855.7 210.4ZM938.5 112.7 939.1 112.6 944.9 108.5 945.5 105.4 941.6 100.8 937.8 100.3 935.6 101.1 937.6 111.5ZM888.7 197.8 885.8 188.5 878.3 193.0 877.5 197.8 878.2 199.5 880.2 200.6 888.4 198.3ZM924.2 190.5 923.8 190.6 919.6 200.8 922.9 201.9 928.1 201.1 930.2 195.3ZM914.3 252.6 922.5 254.8 923.7 258.0 775.6 739.0 758.5 712.8 895.4 276.9 906.4 256.5ZM787.5 104.2 791.8 103.4 789.1 114.4 785.0 112.3 784.3 108.6ZM813.4 105.9 801.0 108.1 806.6 115.2 813.0 114.6ZM797.4 139.7 797.8 138.8 791.6 127.9 785.3 137.7 786.1 141.4 787.0 142.0ZM847.9 158.3 848.8 165.8 844.5 168.2 841.7 168.8 840.9 162.5 843.9 155.8 844.1 155.7ZM877.6 152.6 884.6 150.5 879.9 140.4 876.6 138.3 869.4 137.2 865.0 138.7 867.0 146.1ZM771.2 183.3 770.1 171.5 765.5 168.6 733.0 227.7ZM911.1 239.9 902.7 239.5 900.6 241.6 899.5 244.9 905.8 246.8ZM755.2 80.4 758.1 68.7 762.9 70.1 763.6 76.3 755.5 80.8ZM869.5 211.9 874.0 214.2 878.2 211.0 873.1 206.7ZM869.5 211.9 867.2 212.7 862.5 207.6 868.7 203.5 872.9 204.7 873.1 206.7ZM927.1 182.4 932.1 178.5 929.7 173.8 924.2 171.4 922.2 174.5 921.8 178.6ZM860.3 200.6 858.3 205.9 853.3 201.9 850.8 195.1 850.9 195.0 851.5 194.3 858.5 194.6 859.6 195.3ZM931.0 222.0 921.2 228.2 921.2 229.1 922.7 230.8 929.9 230.2 933.5 226.4 933.1 223.1Z"/>
<path fill="#d53022" d="M959.8 58.1 957.2 59.2 956.6 59.0 954.8 51.5 961.9 53.7ZM965.2 60.9 962.7 53.7 962.1 53.6 961.9 53.7 959.8 58.1 963.9 61.6ZM937.1 86.8 934.8 80.7 931.8 82.0 931.8 82.0 934.1 88.4 935.5 88.8ZM924.8 68.1 920.8 66.4 918.6 67.5 920.8 73.9 924.8 68.9ZM975.9 57.2 973.1 64.2 972.0 64.1 970.2 63.2 968.6 61.0 972.6 56.2ZM935.6 74.8 937.5 66.4 934.4 66.0 934.0 66.1 932.1 72.9 933.1 73.7ZM985.0 72.4 1024.1 105.0 981.6 78.6 982.1 73.5ZM979.1 55.5 979.5 55.2 979.8 47.4 975.3 48.9 975.3 50.6ZM911.5 75.1 908.5 82.4 905.2 79.2 910.3 73.9ZM905.5 91.8 908.2 85.1 908.0 84.1 903.3 86.3 901.7 90.4 902.0 90.9 905.2 91.8ZM920.1 76.8 916.4 81.7 923.5 86.1 923.6 85.8 923.6 85.8ZM925.4 76.6 929.2 80.1 933.1 73.7 932.1 72.9 930.3 72.6 928.6 73.0 925.3 76.6ZM908.5 82.4 908.6 82.6 908.0 84.1 903.3 86.3 898.4 80.8 901.3 78.3 903.5 78.5 905.2 79.2ZM975.0 67.8 974.9 65.1 977.0 64.6 980.3 66.3 978.8 72.2 978.4 72.2ZM945.2 67.8 945.2 67.8 946.2 59.7 942.1 62.0 940.8 65.1ZM963.1 62.7 963.9 61.6 959.8 58.1 957.2 59.2 959.0 63.6 960.7 64.1ZM966.5 71.2 969.9 72.1 970.4 72.4 969.4 79.5 968.7 79.7 964.6 78.5ZM944.9 43.2 947.7 57.9 948.3 58.4 953.1 60.6 956.6 59.0 954.8 51.5ZM934.4 66.0 936.2 57.8 931.6 61.7 932.0 65.1 934.0 66.1ZM928.8 59.7 926.0 62.5 924.1 61.7 921.7 53.2 928.8 58.0ZM945.2 67.8 946.2 59.7 947.7 57.9 948.3 58.4 949.5 65.9ZM920.4 75.7 920.1 76.8 923.6 85.8 925.4 76.6 925.3 76.6 920.6 75.7ZM978.5 80.2 981.6 78.6 1024.1 105.0 1081.7 147.2 1068.7 142.5 1062.5 139.2 1039.1 126.1 987.7 94.6 978.3 80.5ZM907.1 71.4 903.2 69.9 900.7 75.7 901.3 78.3 903.5 78.5ZM920.6 75.7 920.8 73.9 924.8 68.9 928.6 73.0 925.3 76.6ZM936.2 79.3 934.8 80.7 931.8 82.0 929.5 80.8 929.2 80.1 933.1 73.7 935.6 74.8 937.2 76.0 937.4 76.4ZM969.3 41.4 965.0 45.1 966.5 52.8 966.6 52.8 968.9 52.5 968.9 52.5ZM978.4 56.9 979.6 59.2 983.7 61.3 986.3 57.2 982.0 54.4 979.5 55.2 979.1 55.5ZM964.6 78.5 968.7 79.7 966.9 86.9 964.9 86.3 964.1 78.7ZM961.9 53.7 954.8 51.5 944.9 43.2 944.4 42.2 961.8 45.8 962.1 53.6ZM923.5 86.5 923.5 86.1 923.6 85.8 929.5 80.8 931.8 82.0 931.8 82.0 927.7 88.9 925.2 88.0ZM969.3 41.4 968.9 52.5 973.7 47.9 969.7 40.9ZM966.5 71.2 969.9 72.1 972.0 64.1 970.2 63.2 966.2 68.3 965.7 70.6ZM924.1 61.7 921.7 53.2 917.7 47.7 918.4 61.0 921.4 63.3ZM932.0 65.1 928.8 65.9 927.3 65.6 926.0 62.5 928.8 59.7 931.6 61.7ZM934.1 88.4 928.9 89.5 928.4 89.4 927.7 88.9 931.8 82.0ZM970.4 72.4 970.6 72.4 975.0 67.8 974.9 65.1 973.1 64.2 972.0 64.1 969.9 72.1ZM978.4 56.9 975.9 57.2 972.6 56.2 971.9 54.8 975.3 50.6 979.1 55.5ZM934.0 66.1 932.1 72.9 930.3 72.6 928.8 65.9 932.0 65.1ZM880.9 129.9 884.9 133.2 890.4 130.1 890.3 128.1 882.6 126.0 880.3 128.5ZM893.1 83.5 894.3 86.5 901.7 90.4 903.3 86.3 898.4 80.8 893.3 82.6ZM816.5 198.3 813.8 195.2 800.8 203.8 763.9 265.5 739.1 319.1 813.7 208.3ZM903.8 232.5 900.9 229.6 906.2 221.3 906.7 221.4 910.7 225.0 911.2 229.5 908.1 233.4ZM754.0 139.4 758.7 136.6 760.1 133.2 752.7 129.4 746.8 131.7 746.3 133.4 752.5 139.3ZM936.9 250.3 932.9 255.6 923.7 258.0 922.5 254.8 922.6 243.9 925.1 241.8 930.1 241.2ZM746.8 131.7 752.7 129.4 752.0 125.1 744.9 121.2 744.8 121.4 743.9 128.1ZM684.0 124.0 684.9 127.1 632.9 175.7 393.3 333.6 167.2 166.5 675.1 120.7ZM822.5 179.5 829.2 175.7 830.8 179.9 827.2 186.2 825.9 185.7ZM700.7 129.2 693.5 135.9 691.2 136.2 690.0 128.6 693.8 125.5ZM818.1 189.8 825.6 194.3 821.8 198.5 816.5 198.3 813.8 195.2 813.8 194.5ZM769.1 136.2 774.0 135.9 775.2 130.0 772.8 126.8 767.1 134.6ZM836.9 186.0 831.2 192.9 830.1 192.5 827.2 186.2 830.8 179.9 836.6 181.8ZM693.9 119.8 686.6 118.7 684.0 124.0 684.9 127.1 690.0 128.6 693.8 125.5ZM799.8 188.0 799.8 188.2 802.7 195.4 809.2 190.2 808.2 185.2 806.3 184.3ZM695.3 118.4 701.7 118.4 705.2 122.7 701.4 129.2 700.7 129.2 693.8 125.5 693.9 119.8ZM912.2 239.3 908.1 233.4 911.2 229.5 916.5 231.9 913.2 239.4ZM691.2 136.2 682.5 147.6 632.9 175.7 684.9 127.1 690.0 128.6ZM911.1 239.9 902.7 239.5 903.8 232.5 908.1 233.4 912.2 239.3ZM813.8 194.5 813.8 195.2 800.8 203.8 802.7 195.4 809.2 190.2ZM846.2 184.8 840.4 178.3 836.6 181.8 836.9 186.0 843.3 187.8ZM684.3 114.9 675.1 120.7 684.0 124.0 686.6 118.7ZM866.3 86.5 866.1 82.8 867.7 75.7 878.3 87.4 872.9 92.6 872.4 92.6ZM701.5 139.1 702.5 130.7 701.4 129.2 700.7 129.2 693.5 135.9 701.5 139.1ZM890.8 139.5 884.9 135.3 884.9 133.2 890.4 130.1 894.1 133.9 894.2 134.3ZM812.8 183.1 818.1 189.8 821.1 186.2 816.3 178.8ZM807.7 171.8 814.6 175.1 816.5 178.0 816.5 178.2 816.3 178.8 812.8 183.1 808.2 185.2 806.3 184.3 805.0 181.6ZM825.9 185.7 827.2 186.2 830.1 192.5 825.6 194.3 818.1 189.8 818.1 189.8 821.1 186.2ZM890.7 143.4 884.7 150.5 884.6 150.5 879.9 140.4 884.9 135.3 890.8 139.5ZM785.4 184.1 780.8 179.1 779.3 179.3 771.2 183.3 733.0 227.7 724.1 238.9 709.2 262.1 609.9 511.1 629.6 531.8 739.1 319.1 763.9 265.5 786.4 201.1ZM804.7 170.5 797.3 178.1 805.0 181.6 807.7 171.8 806.4 169.9ZM846.6 184.7 850.7 179.0 841.2 174.7 840.4 178.3 846.2 184.8ZM831.5 171.8 829.3 175.5 829.2 175.7 830.8 179.9 836.6 181.8 840.4 178.3 841.2 174.7 840.3 169.9 839.0 169.8ZM816.5 178.2 822.5 179.5 825.9 185.7 821.1 186.2 816.3 178.8ZM880.9 129.9 876.6 138.3 879.9 140.4 884.9 135.3 884.9 133.2ZM929.9 230.2 931.8 237.2 930.4 240.9 930.1 241.2 925.1 241.8 922.7 230.8ZM882.6 126.0 883.5 120.6 885.6 118.6 892.6 123.0 890.3 128.1ZM816.5 178.2 822.5 179.5 829.2 175.7 829.3 175.5 822.8 173.1 816.5 178.0Z"/>
<path fill="#a81a14" d="M971.9 54.8 968.9 52.5 966.6 52.8 967.7 60.8 968.6 61.0 972.6 56.2ZM928.8 65.9 930.3 72.6 928.6 73.0 924.8 68.9 924.8 68.1 927.3 65.6ZM985.0 72.4 982.1 73.5 978.8 72.2 980.3 66.3 982.1 65.8 985.1 71.9ZM970.6 72.4 975.0 67.8 978.4 72.2 975.4 74.3ZM947.8 89.9 945.2 91.6 942.5 91.8 940.8 85.0 942.9 84.0ZM940.8 85.0 942.5 91.8 942.0 92.0 939.7 92.5 936.3 90.6 935.5 88.8 937.1 86.8 940.8 85.0ZM965.0 45.1 961.8 45.8 962.1 53.6 962.7 53.7 966.5 52.8ZM945.2 70.4 945.2 67.8 940.8 65.1 938.7 65.6 937.6 66.4 941.0 72.1 944.3 71.3ZM980.3 66.3 977.0 64.6 979.6 59.2 983.7 61.3 984.5 63.3 982.1 65.8ZM940.8 85.0 937.1 86.8 934.8 80.7 936.2 79.3ZM940.8 65.1 942.1 62.0 936.9 57.4 938.7 65.6ZM959.7 76.9 958.9 84.5 959.1 84.6 960.0 84.7 964.1 78.7ZM966.2 68.3 963.1 62.7 963.9 61.6 965.2 60.9 967.7 60.8 968.6 61.0 970.2 63.2ZM984.4 51.1 982.0 54.4 979.5 55.2 979.8 47.4 979.9 47.4 984.4 50.3ZM927.3 65.6 926.0 62.5 924.1 61.7 921.4 63.3 920.8 66.4 924.8 68.1ZM965.7 70.6 966.2 68.3 963.1 62.7 960.7 64.1 961.0 69.0 964.4 70.6ZM964.4 70.6 961.0 69.0 958.7 69.8 957.8 75.6 958.7 76.4 959.5 76.7ZM968.9 52.5 968.9 52.5 971.9 54.8 975.3 50.6 975.3 48.9 973.7 47.9ZM925.4 76.6 929.2 80.1 929.5 80.8 923.6 85.8 923.6 85.8ZM935.6 101.1 932.3 100.1 933.1 95.4 936.3 90.6 939.7 92.5 937.8 100.3ZM978.4 56.9 979.6 59.2 977.0 64.6 974.9 65.1 973.1 64.2 975.9 57.2ZM942.5 91.8 945.2 91.6 946.2 97.3 943.2 99.0 942.0 92.0ZM942.9 84.0 940.8 85.0 940.8 85.0 936.2 79.3 937.4 76.4 941.7 78.3 943.3 83.3ZM966.5 71.2 964.6 78.5 964.1 78.7 964.1 78.7 959.7 76.9 959.5 76.7 964.4 70.6 965.7 70.6ZM944.9 43.2 947.7 57.9 946.2 59.7 942.1 62.0 936.9 57.4 936.7 57.1 936.8 53.0 941.7 39.1 944.4 42.2ZM966.6 52.8 967.7 60.8 965.2 60.9 962.7 53.7 966.5 52.8ZM937.6 66.4 937.5 66.4 934.4 66.0 936.2 57.8 936.7 57.1 936.9 57.4 938.7 65.6ZM937.2 76.0 941.0 72.1 937.6 66.4 937.5 66.4 935.6 74.8ZM960.7 64.1 959.0 63.6 955.4 65.4 956.3 68.9 958.7 69.8 961.0 69.0ZM937.8 100.3 939.7 92.5 942.0 92.0 943.2 99.0 941.6 100.8ZM804.8 163.7 803.1 158.4 797.5 155.5 793.1 158.7 794.2 164.1ZM804.7 170.5 796.4 169.2 793.7 166.0 794.2 164.1 804.8 163.7 807.0 166.1 806.4 169.9ZM796.4 169.2 794.8 178.2 789.1 175.6 790.8 167.7 793.7 166.0ZM812.8 125.0 807.3 135.5 807.2 135.4 806.8 134.7 804.6 122.9ZM793.7 166.0 790.8 167.7 784.8 166.3 785.0 161.6 788.8 157.8 789.7 157.5 793.1 158.7 794.2 164.1ZM783.2 167.5 776.0 166.3 779.3 179.3 780.8 179.1 783.8 176.5ZM844.8 122.5 846.9 130.7 841.7 133.4 835.9 129.5 843.1 121.9ZM844.8 122.5 850.6 121.2 850.1 115.7 844.8 112.3 842.5 120.8 843.1 121.9ZM841.5 140.0 833.3 140.6 831.7 138.3 835.4 129.8 835.8 129.4 835.9 129.5 841.7 133.4 842.5 139.4ZM790.8 167.7 784.8 166.3 783.2 167.5 783.8 176.5 789.1 175.6ZM933.5 226.4 938.2 231.3 931.8 237.2 929.9 230.2ZM847.0 100.6 847.0 93.4 840.3 88.6 835.1 97.0 835.1 97.3 837.0 100.1 846.4 101.9ZM834.1 117.6 832.0 123.5 835.8 129.4 835.9 129.5 843.1 121.9 842.5 120.8 835.3 117.3ZM808.2 185.2 809.2 190.2 813.8 194.5 818.1 189.8 818.1 189.8 812.8 183.1ZM847.0 148.8 848.2 145.6 847.1 142.2 842.5 139.4 841.5 140.0 837.6 148.4 846.7 149.1ZM788.8 157.8 785.0 161.6 779.5 159.7 779.6 154.9 780.7 154.2ZM834.1 117.6 830.6 113.6 834.4 107.8 836.0 107.1 841.3 110.7 835.3 117.3ZM779.5 159.7 775.1 164.2 775.7 166.0 776.0 166.3 783.2 167.5 784.8 166.3 785.0 161.6ZM837.6 148.4 833.4 150.5 832.0 149.8 833.3 140.6 841.5 140.0ZM849.7 131.0 846.9 130.7 844.8 122.5 850.6 121.2 851.4 121.7 853.6 125.5 852.6 129.0ZM847.5 105.5 844.1 110.7 841.3 110.7 836.0 107.1 837.0 100.1 846.4 101.9ZM835.3 117.3 842.5 120.8 844.8 112.3 844.1 110.7 841.3 110.7Z"/>
</g>
<path d="M826.3 150.6h0.7M907.3 156.5h1M880.9 123.2h1.4M697.4 89.9h0.7M966.0 101.8h1M957.6 134.6h0.7M903.7 198.9h1.4M742.9 70.2h1.4M942.3 235.0h1.4M856.3 115.5h0.7M774.9 86.5h0.7M950.8 243.1h0.7M938.4 123.9h0.7M927.9 158.2h0.7M942.1 152.9h1.4M717.8 105.0h1M951.2 84.2h1.4M868.0 140.8h0.7M913.3 155.2h0.7M912.0 145.1h1M945.0 141.4h0.7M909.7 177.8h0.7M892.3 228.6h1.4M925.1 152.4h1.4M704.5 110.1h1M955.0 108.0h1M903.9 118.2h1.4M875.9 119.7h1M731.8 151.4h1M882.3 227.6h1M884.8 92.2h0.7M922.4 93.5h1.4M709.6 142.4h1.4M960.8 187.4h1M936.5 230.1h0.7M958.9 187.6h1M887.2 104.1h0.7M918.8 146.9h1.4M919.1 122.0h1.4M850.8 107.2h1.4M952.3 99.8h1.4M874.7 188.2h1M713.1 109.8h0.7M755.4 120.4h1M897.2 206.5h1.4M894.9 186.9h0.7M861.7 105.6h1.4M901.9 141.1h1M918.9 119.5h1.4M896.2 119.6h1.4M926.2 86.0h1.4M939.3 258.2h0.7M957.4 131.9h0.7M962.3 194.1h1.4M892.9 94.2h1.4M937.9 199.2h1.4M942.0 188.0h1M878.5 120.3h0.7M914.4 174.5h0.7M894.2 203.1h1M952.6 250.1h1M959.3 248.3h0.7M868.0 177.8h0.7M696.2 138.9h0.7M780.6 148.8h0.7M951.7 171.5h0.7M896.3 196.3h1.4M928.4 186.8h1M865.7 178.5h1.4M774.2 162.6h1M937.1 244.3h1M906.3 144.4h0.9M934.5 143.5h0.9M911.2 119.7h1.2M918.4 100.7h1.2M899.9 145.2h0.9M917.0 99.8h0.6M956.7 123.0h0.9M900.3 153.7h0.6M918.7 120.5h0.9M941.9 158.5h0.9M936.4 149.3h0.9M953.8 148.7h1.2M906.3 124.4h0.9M937.3 153.2h0.6M908.5 130.1h0.9M951.3 128.9h1.2M953.6 122.4h1.2M914.9 108.0h0.6M936.2 157.8h0.6M897.7 148.1h1.2M903.7 113.1h1.2M921.3 124.1h0.9M962.9 120.1h0.9M924.8 127.3h0.6M959.4 134.3h0.6M919.4 143.4h0.6M938.9 137.5h1.2M957.9 115.3h0.6M952.7 118.4h0.9M951.5 140.4h0.9M954.2 109.6h1.2M960.0 129.2h0.9M900.1 159.2h0.6M907.0 100.2h0.9M916.1 128.5h0.6M957.6 129.4h1.2M905.0 137.3h1.2M894.5 111.8h0.6M931.5 137.5h0.9M903.2 95.1h1.2M948.6 101.6h0.9M944.4 144.0h1.2M902.9 125.4h1.2M943.7 147.3h1.2M938.8 131.9h0.6M948.6 92.1h0.9M918.0 128.9h0.9M894.1 134.5h1.2M922.3 157.1h1.2M957.2 134.4h0.6M955.0 142.5h0.6M951.8 132.8h0.9M954.1 132.8h1.2M909.1 119.5h1.2M961.5 127.7h0.9M930.9 159.2h0.9M928.8 146.5h0.6M954.4 130.7h0.9M957.7 128.4h0.9M931.8 156.2h1.2M907.5 109.1h0.6M921.4 115.1h0.9M933.1 150.4h0.6M955.9 109.2h0.9M932.2 153.7h0.9M897.5 137.5h1.2M959.5 118.2h0.6M956.6 103.7h0.6M906.9 96.4h1.2M940.5 133.7h0.6M934.2 156.5h0.6M904.0 127.4h0.9M955.3 136.5h1.2M931.6 148.7h1.2M901.4 134.4h0.6M901.2 112.9h1.2M913.0 149.4h1.2M957.7 133.8h1.2M922.5 93.8h0.9M927.2 118.9h0.6M941.5 118.3h1.2M963.3 97.1h0.6M917.1 145.9h0.9M897.0 113.4h0.9M922.9 92.1h0.9M949.5 94.4h0.6M909.7 99.7h0.6M927.7 136.9h0.6M906.3 124.2h1.2M895.3 111.0h0.6M933.3 117.6h0.9M919.8 154.5h0.9M898.2 124.1h0.6M954.8 123.7h1.2M945.9 141.3h0.6M923.5 144.6h0.9M951.0 119.5h1.2M921.7 119.7h0.9M915.5 126.4h0.6M947.1 97.4h0.6M939.0 158.9h0.6M951.3 94.4h0.6M900.9 158.4h1.2M899.4 132.9h0.9M915.2 103.4h1.2M925.8 153.5h0.9M950.0 94.1h1.2M901.8 144.8h0.6M943.5 132.2h1.2M903.6 102.1h1.2M900.2 159.5h0.9M925.7 155.2h1.2M911.1 119.8h0.9M937.8 157.9h0.9M893.1 142.6h0.6M954.3 117.9h0.9M901.8 112.1h0.6M898.2 138.6h0.6M949.4 122.2h0.6M923.5 95.1h0.6M963.3 102.1h0.9M927.3 146.7h0.9M912.7 152.2h1.2M914.2 93.1h1.2M904.9 114.0h0.6M915.7 95.0h0.9M912.1 101.9h1.2M904.0 106.3h1.2M955.5 115.0h0.6M945.9 129.6h1.2M952.3 149.5h0.6M937.7 147.7h0.6M894.0 101.2h1.2" stroke="#3a1d16" stroke-width="0.7" opacity="0.75" fill="none"/>
<path d="M932.6 28 l3.2 -0.6 1.6 1 -2.8 0.8z" fill="#b08a84"/>
<circle cx="731.3" cy="229.3" r="1.3" fill="#e79a88"/><circle cx="675" cy="275" r="0.7" fill="#caa"/>
<path d="M666 96.5v2.4M667 105.5l.6 2.6M669.8 84v1.6M664.4 83.5v1.2" stroke="#9aa" stroke-width="0.9" fill="none"/>
<path d="M716.6 56L709 76.5M702.1 74.2L705.2 79.5M687.7 96.3L695.3 94M667.2 133.5L679.3 135.7M883 226.4L889.1 224.1M901.3 224.1L905.8 228.7M895.2 231L892.9 236.3M934 266.2L934 269.4M931.2 165L934.2 174.1M967.7 180.2L963.1 184.8M958.4 266L958.4 270" stroke="#111" stroke-width="0.75" fill="none"/>
<g font-family='"Liberation Sans", "DejaVu Sans", sans-serif' font-size="4.3" font-weight="bold" fill="#000" stroke="#000" stroke-width="0.22" text-anchor="middle" lengthAdjust="spacingAndGlyphs">
<text x="736.4" y="53.6" textLength="36.5" lengthAdjust="spacingAndGlyphs">SAN VITO LO CAPO</text>
<text x="736.4" y="58.8" textLength="11.0" lengthAdjust="spacingAndGlyphs">89.11</text>
<text x="701.4" y="67.3" textLength="20.5" lengthAdjust="spacingAndGlyphs">CUSTONACI</text>
<text x="701.4" y="72.6" textLength="13.2" lengthAdjust="spacingAndGlyphs">104.39</text>
<text x="686.2" y="82.2" textLength="20.5" lengthAdjust="spacingAndGlyphs">VALDERICE</text>
<text x="686.2" y="87.2" textLength="13.2" lengthAdjust="spacingAndGlyphs">198.84</text>
<text x="680.1" y="95.8" textLength="11.4" lengthAdjust="spacingAndGlyphs">ERICE</text>
<text x="680.1" y="100.7" textLength="13.2" lengthAdjust="spacingAndGlyphs">447.76</text>
<text x="681.6" y="109.8" textLength="16.0" lengthAdjust="spacingAndGlyphs">TRAPANI</text>
<text x="681.6" y="115.2" textLength="13.2" lengthAdjust="spacingAndGlyphs">927.86</text>
<text x="708.2" y="105.3" textLength="13.7" lengthAdjust="spacingAndGlyphs">PACECO</text>
<text x="708.2" y="110.9" textLength="13.2" lengthAdjust="spacingAndGlyphs">242.09</text>
<text x="681" y="126.9" textLength="16.0" lengthAdjust="spacingAndGlyphs">MARSALA</text>
<text x="681" y="132.9" textLength="15.4" lengthAdjust="spacingAndGlyphs">1464.82</text>
<text x="702.3" y="126.9" textLength="13.7" lengthAdjust="spacingAndGlyphs">SALEMI</text>
<text x="702.3" y="132.3" textLength="13.2" lengthAdjust="spacingAndGlyphs">184.89</text>
<text x="683.9" y="145.5" textLength="36.5" lengthAdjust="spacingAndGlyphs">MAZARA DEL VALLO</text>
<text x="683.9" y="150.8" textLength="13.2" lengthAdjust="spacingAndGlyphs">906.73</text>
<text x="725" y="143.2" textLength="18.2" lengthAdjust="spacingAndGlyphs">PARTANNA</text>
<text x="725" y="148.9" textLength="13.2" lengthAdjust="spacingAndGlyphs">190.17</text>
<text x="718" y="160" textLength="45.6" lengthAdjust="spacingAndGlyphs">CAMPOBELLO DI MAZARA</text>
<text x="718" y="165.3" textLength="11.0" lengthAdjust="spacingAndGlyphs">210.8</text>
<text x="756.1" y="163" textLength="16.0" lengthAdjust="spacingAndGlyphs">SCIACCA</text>
<text x="756.1" y="168.3" textLength="13.2" lengthAdjust="spacingAndGlyphs">698.17</text>
<text x="851.3" y="154.6" textLength="29.6" lengthAdjust="spacingAndGlyphs">CALTANISSETTA</text>
<text x="851.3" y="160.2" textLength="11.0" lengthAdjust="spacingAndGlyphs">975.5</text>
<text x="861" y="183.7" textLength="11.4" lengthAdjust="spacingAndGlyphs">RIESI</text>
<text x="861" y="188.9" textLength="11.0" lengthAdjust="spacingAndGlyphs">216.3</text>
<text x="792.1" y="210.5" textLength="45.6" lengthAdjust="spacingAndGlyphs">PALMA DI MONTECHIARO</text>
<text x="792.1" y="215.6" textLength="15.4" lengthAdjust="spacingAndGlyphs">3064.17</text>
<text x="847.3" y="199.7" textLength="18.2" lengthAdjust="spacingAndGlyphs">RAVANUSA</text>
<text x="847.3" y="204.2" textLength="13.2" lengthAdjust="spacingAndGlyphs">191.84</text>
<text x="873.3" y="197.1" textLength="20.5" lengthAdjust="spacingAndGlyphs">MAZZARINO</text>
<text x="873.3" y="202.4" textLength="13.2" lengthAdjust="spacingAndGlyphs">205.54</text>
<text x="894.4" y="192" textLength="20.5" lengthAdjust="spacingAndGlyphs">PIAZZA A.</text>
<text x="894.4" y="197.4" textLength="13.2" lengthAdjust="spacingAndGlyphs">551.08</text>
<text x="915" y="189.8" textLength="25.1" lengthAdjust="spacingAndGlyphs">CALTAGIRONE</text>
<text x="915" y="195.1" textLength="11.0" lengthAdjust="spacingAndGlyphs">620.3</text>
<text x="925.8" y="204.3" textLength="16.0" lengthAdjust="spacingAndGlyphs">VIZZINI</text>
<text x="925.8" y="209.4" textLength="13.2" lengthAdjust="spacingAndGlyphs">148.81</text>
<text x="830.6" y="213.5" textLength="13.7" lengthAdjust="spacingAndGlyphs">LICATA</text>
<text x="830.6" y="218.6" textLength="13.2" lengthAdjust="spacingAndGlyphs">792.79</text>
<text x="857.8" y="213" textLength="9.1" lengthAdjust="spacingAndGlyphs">GELA</text>
<text x="857.8" y="218.3" textLength="15.4" lengthAdjust="spacingAndGlyphs">1501.29</text>
<text x="896" y="217.4" textLength="13.7" lengthAdjust="spacingAndGlyphs">COMISO</text>
<text x="896" y="222.2" textLength="13.2" lengthAdjust="spacingAndGlyphs">765.35</text>
<text x="873.5" y="227" textLength="11.4" lengthAdjust="spacingAndGlyphs">ACATE</text>
<text x="873.5" y="232.7" textLength="13.2" lengthAdjust="spacingAndGlyphs">128.07</text>
<text x="889.8" y="241" textLength="18.2" lengthAdjust="spacingAndGlyphs">VITTORIA</text>
<text x="889.8" y="246.4" textLength="11.0" lengthAdjust="spacingAndGlyphs">61.54</text>
<text x="918.4" y="227.9" textLength="13.7" lengthAdjust="spacingAndGlyphs">RAGUSA</text>
<text x="918.4" y="233.2" textLength="15.4" lengthAdjust="spacingAndGlyphs">2110.67</text>
<text x="914.6" y="243.2" textLength="13.7" lengthAdjust="spacingAndGlyphs">MODICA</text>
<text x="914.6" y="248.6" textLength="15.4" lengthAdjust="spacingAndGlyphs">1167.85</text>
<text x="871.4" y="255.3" textLength="45.6" lengthAdjust="spacingAndGlyphs">SANTA CROCE CAMERINA</text>
<text x="871.4" y="260.6" textLength="13.2" lengthAdjust="spacingAndGlyphs">227.81</text>
<text x="908.6" y="262.8" textLength="13.7" lengthAdjust="spacingAndGlyphs">SCICLI</text>
<text x="908.6" y="267.2" textLength="15.4" lengthAdjust="spacingAndGlyphs">527.129</text>
<text x="934" y="273.6" textLength="18.2" lengthAdjust="spacingAndGlyphs">POZZALLO</text>
<text x="980" y="273.6" textLength="57.0" lengthAdjust="spacingAndGlyphs">PORTOPALO DI CAPO PASSERO</text>
<text x="954.5" y="259.2" textLength="16.0" lengthAdjust="spacingAndGlyphs">PACHINO</text>
<text x="954.5" y="263.8" textLength="11.0" lengthAdjust="spacingAndGlyphs">264.3</text>
<text x="959.1" y="244" textLength="9.1" lengthAdjust="spacingAndGlyphs">NOTO</text>
<text x="959.1" y="249.8" textLength="13.2" lengthAdjust="spacingAndGlyphs">470.88</text>
<text x="940.1" y="246.7" textLength="13.7" lengthAdjust="spacingAndGlyphs">ISPICA</text>
<text x="940.1" y="251.6" textLength="15.4" lengthAdjust="spacingAndGlyphs">1544.76</text>
<text x="941.8" y="228.5" textLength="18.2" lengthAdjust="spacingAndGlyphs">ROSOLINI</text>
<text x="941.8" y="233.4" textLength="13.2" lengthAdjust="spacingAndGlyphs">369.41</text>
<text x="972" y="222.7" textLength="11.4" lengthAdjust="spacingAndGlyphs">AVOLA</text>
<text x="972" y="228.8" textLength="11.0" lengthAdjust="spacingAndGlyphs">739.1</text>
<text x="979.6" y="207.2" textLength="18.2" lengthAdjust="spacingAndGlyphs">SIRACUSA</text>
<text x="979.6" y="212.4" textLength="15.4" lengthAdjust="spacingAndGlyphs">2167.69</text>
<text x="960.6" y="160.6" textLength="16.0" lengthAdjust="spacingAndGlyphs">CATANIA</text>
<text x="960.6" y="166.1" textLength="15.4" lengthAdjust="spacingAndGlyphs">4471.98</text>
<text x="928.9" y="159.5" textLength="16.0" lengthAdjust="spacingAndGlyphs">LENTINI</text>
<text x="928.9" y="164.9" textLength="11.0" lengthAdjust="spacingAndGlyphs">487.4</text>
<text x="952.3" y="174.7" textLength="22.8" lengthAdjust="spacingAndGlyphs">CARLENTINI</text>
<text x="952.3" y="180.4" textLength="13.2" lengthAdjust="spacingAndGlyphs">432.91</text>
<text x="978.3" y="177.8" textLength="16.0" lengthAdjust="spacingAndGlyphs">AUGUSTA</text>
<text x="978.3" y="183.4" textLength="13.2" lengthAdjust="spacingAndGlyphs">847.28</text>
<text x="971.5" y="192.2" textLength="16.0" lengthAdjust="spacingAndGlyphs">MELILLI</text>
<text x="971.5" y="197.6" textLength="13.2" lengthAdjust="spacingAndGlyphs">275.03</text>
<text x="908.4" y="173.7" textLength="13.7" lengthAdjust="spacingAndGlyphs">AIDONE</text>
<text x="908.4" y="178.9" textLength="13.2" lengthAdjust="spacingAndGlyphs">277.46</text>
<text x="905.7" y="144.4" textLength="16.0" lengthAdjust="spacingAndGlyphs">PATERNÒ</text>
<text x="905.7" y="149.7" textLength="13.2" lengthAdjust="spacingAndGlyphs">1160.8</text>
<text x="918.3" y="114.4" textLength="13.7" lengthAdjust="spacingAndGlyphs">ADRANO</text>
<text x="918.3" y="120.2" textLength="13.2" lengthAdjust="spacingAndGlyphs">678.07</text>
<text x="868.6" y="112.4" textLength="16.0" lengthAdjust="spacingAndGlyphs">NICOSIA</text>
<text x="868.6" y="117.6" textLength="13.2" lengthAdjust="spacingAndGlyphs">405.71</text>
<text x="886.4" y="159.6" textLength="25.1" lengthAdjust="spacingAndGlyphs">BARRAFRANCA</text>
<text x="886.4" y="165.3" textLength="11.0" lengthAdjust="spacingAndGlyphs">218.3</text>
<text x="883.3" y="173.6" textLength="9.1" lengthAdjust="spacingAndGlyphs">ENNA</text>
<text x="883.3" y="179.4" textLength="13.2" lengthAdjust="spacingAndGlyphs">646.58</text>
<text x="714.1" y="245.9" textLength="41.0" lengthAdjust="spacingAndGlyphs">LAMPEDUSA E LINOSA</text>
<text x="714.1" y="252.4" textLength="15.4" lengthAdjust="spacingAndGlyphs">2091.83</text>
<text x="880.6" y="141.2" textLength="20.5" lengthAdjust="spacingAndGlyphs">LEONFORTE</text>
<text x="880.6" y="146.4" textLength="11.0" lengthAdjust="spacingAndGlyphs">301.7</text>
<text x="895.5" y="124.6" textLength="13.7" lengthAdjust="spacingAndGlyphs">TROINA</text>
<text x="895.5" y="130" textLength="11.0" lengthAdjust="spacingAndGlyphs">512.4</text>
<text x="895.5" y="100.6" textLength="13.7" lengthAdjust="spacingAndGlyphs">CESARÒ</text>
<text x="895.5" y="105.6" textLength="8.8" lengthAdjust="spacingAndGlyphs">98.2</text>
</g>
</g>
<g id="small">
<rect x="676.3" y="291" width="328.2" height="160.3" fill="#f0f0f0"/>
<g fill="#e9e9ea" opacity="0.7"><path d="M760 296 q14 8 30 2 q12 14 36 6 q10 16 -6 30 q-22 8 -40 -4 q-20 -10 -20 -34z"/><path d="M700 360 q20 -10 36 4 q14 18 -4 36 q-24 10 -38 -8 q-6 -18 6 -32z"/><path d="M770 380 q20 -12 40 0 q4 20 -16 30 q-22 2 -24 -30z"/><path d="M905 296 q24 2 34 16 q-10 12 -30 4 q-12 -8 -4 -20z"/><path d="M740 436 q30 -6 60 2 q-10 10 -58 10z"/></g>
<path d="M1004.4 291V451.2H998M676.4 446V451.2H680" stroke="#a8a8a8" stroke-width="0.8" fill="none"/>
<g font-family='"Liberation Sans", "DejaVu Sans", sans-serif'>
<text font-size="6.0" fill="#3d3d3d" x="678" y="296.2" textLength="113" lengthAdjust="spacingAndGlyphs">Somministrazioni complessive per vaccino</text>
<text font-size="5.4" fill="#222" x="678" y="307.7" font-weight="bold" textLength="17.4" lengthAdjust="spacingAndGlyphs">Vaccino</text>
<circle cx="700.4" cy="305.8" r="1.9" fill="#12239e"/>
<text font-size="5.2" fill="#333" x="703.4" y="307.7" textLength="26.4" lengthAdjust="spacingAndGlyphs">MODERNA</text>
<circle cx="732.2" cy="305.8" r="1.9" fill="#3a96ee"/>
<text font-size="5.2" fill="#333" x="734.8" y="307.7" textLength="17.6" lengthAdjust="spacingAndGlyphs">PFIZER</text>
<circle cx="755.8" cy="305.8" r="1.9" fill="#1a2270"/>
<text font-size="5.2" fill="#333" x="758.8" y="307.7" textLength="63.4" lengthAdjust="spacingAndGlyphs">Somministrazioni cumulate</text>
<defs><filter id="sh2" x="-20%" y="-30%" width="150%" height="180%"><feGaussianBlur stdDeviation="1.4"/></filter></defs>
<rect x="700.5" y="313.6" width="85.6" height="29.7" fill="#444" opacity="0.36" filter="url(#sh2)"/>
<rect x="697.8" y="310.8" width="85.6" height="29.7" fill="#f3f3f3" opacity="0.95"/>
<g stroke="#9cc3ea" stroke-width="0.6" stroke-dasharray="1.6 1.8" fill="none"><path d="M706 315.6H982"/><path d="M706 337.9H982" opacity="0.45"/><path d="M706 360.3H982"/><path d="M706 382.6H982" opacity="0.45"/><path d="M706 405.0H982"/><path d="M715.4 315.6V427.3"/><path d="M754.9 315.6V427.3"/><path d="M793.6 315.6V427.3"/><path d="M832.0 315.6V427.3"/><path d="M870.6 315.6V427.3"/><path d="M908.5 315.6V427.3"/><path d="M945.5 315.6V427.3"/></g>
<text font-size="4.7" fill="#33365f" x="703.2" y="317.3" text-anchor="end" textLength="9.2" lengthAdjust="spacingAndGlyphs">500K</text>
<text font-size="4.7" fill="#33365f" x="703.2" y="339.59999999999997" text-anchor="end" textLength="9.2" lengthAdjust="spacingAndGlyphs">400K</text>
<text font-size="4.7" fill="#33365f" x="703.2" y="362.0" text-anchor="end" textLength="9.2" lengthAdjust="spacingAndGlyphs">300K</text>
<text font-size="4.7" fill="#33365f" x="703.2" y="384.3" text-anchor="end" textLength="9.2" lengthAdjust="spacingAndGlyphs">200K</text>
<text font-size="4.7" fill="#33365f" x="703.2" y="406.7" text-anchor="end" textLength="9.2" lengthAdjust="spacingAndGlyphs">100K</text>
<text font-size="4.7" fill="#33365f" x="703.2" y="429.0" text-anchor="end" textLength="5.4" lengthAdjust="spacingAndGlyphs">0K</text>
<text font-size="4.7" fill="#555" x="984.8" y="317.09999999999997" textLength="10.6" lengthAdjust="spacingAndGlyphs">3,0Mln</text>
<path d="M981 315.4h2" stroke="#9cc3ea" stroke-width="0.6"/>
<text font-size="4.7" fill="#555" x="984.8" y="335.7" textLength="10.6" lengthAdjust="spacingAndGlyphs">2,5Mln</text>
<path d="M981 334h2" stroke="#9cc3ea" stroke-width="0.6"/>
<text font-size="4.7" fill="#555" x="984.8" y="354.3" textLength="10.6" lengthAdjust="spacingAndGlyphs">2,0Mln</text>
<path d="M981 352.6h2" stroke="#9cc3ea" stroke-width="0.6"/>
<text font-size="4.7" fill="#555" x="984.8" y="373.0" textLength="10.6" lengthAdjust="spacingAndGlyphs">1,5Mln</text>
<path d="M981 371.3h2" stroke="#9cc3ea" stroke-width="0.6"/>
<text font-size="4.7" fill="#555" x="984.8" y="391.59999999999997" textLength="10.6" lengthAdjust="spacingAndGlyphs">1,0Mln</text>
<path d="M981 389.9h2" stroke="#9cc3ea" stroke-width="0.6"/>
<text font-size="4.7" fill="#555" x="984.8" y="410.4" textLength="10.6" lengthAdjust="spacingAndGlyphs">0,5Mln</text>
<path d="M981 408.7h2" stroke="#9cc3ea" stroke-width="0.6"/>
<text font-size="4.7" fill="#555" x="984.8" y="429.0" textLength="10.6" lengthAdjust="spacingAndGlyphs">0,0Mln</text>
<path d="M981 427.3h2" stroke="#9cc3ea" stroke-width="0.6"/>
<text font-size="5.0" fill="#3a3a3a" transform="translate(682 372.5) rotate(-90)" text-anchor="middle" textLength="45" lengthAdjust="spacingAndGlyphs">Somministrazioni</text>
<text font-size="4.8" fill="#4a4a4a" transform="translate(1002.6 370.5) rotate(-90)" text-anchor="middle" textLength="60" lengthAdjust="spacingAndGlyphs">Somministrazioni cumulate</text>
<text font-size="4.7" fill="#4a4a4a" x="716.0" y="433.6" text-anchor="middle" textLength="15.2" lengthAdjust="spacingAndGlyphs">gen 2021</text>
<text font-size="4.7" fill="#4a4a4a" x="755.5" y="433.6" text-anchor="middle" textLength="15.2" lengthAdjust="spacingAndGlyphs">mar 2021</text>
<text font-size="4.7" fill="#4a4a4a" x="794.2" y="433.6" text-anchor="middle" textLength="15.2" lengthAdjust="spacingAndGlyphs">mag 2021</text>
<text font-size="4.7" fill="#4a4a4a" x="832.6" y="433.6" text-anchor="middle" textLength="15.2" lengthAdjust="spacingAndGlyphs">lug 2021</text>
<text font-size="4.7" fill="#4a4a4a" x="871.2" y="433.6" text-anchor="middle" textLength="15.2" lengthAdjust="spacingAndGlyphs">set 2021</text>
<text font-size="4.7" fill="#4a4a4a" x="909.1" y="433.6" text-anchor="middle" textLength="15.2" lengthAdjust="spacingAndGlyphs">nov 2021</text>
<text font-size="4.7" fill="#4a4a4a" x="946.1" y="433.6" text-anchor="middle" textLength="15.2" lengthAdjust="spacingAndGlyphs">gen 2022</text>
<text font-size="5.6" fill="#222" x="821" y="449.6" font-weight="bold" textLength="44.2" lengthAdjust="spacingAndGlyphs">Data Vaccinazione</text>
<path d="M735.00 427.3v-0.2h1.5v0.2zM737.95 427.3v-0.2h1.5v0.2zM740.90 427.3v-0.2h1.5v0.2zM743.85 427.3v-0.2h1.5v0.2zM749.75 427.3v-0.4h1.5v0.4zM752.70 427.3v-0.4h1.5v0.4zM755.65 427.3v-0.5h1.5v0.5zM758.60 427.3v-0.5h1.5v0.5zM761.55 427.3v-0.7h1.5v0.7zM764.50 427.3v-0.7h1.5v0.7zM767.45 427.3v-0.5h1.5v0.5zM770.40 427.3v-1.2h1.5v1.2zM773.35 427.3v-1.3h1.5v1.3zM776.30 427.3v-1.5h1.5v1.5zM779.25 427.3v-1.5h1.5v1.5zM782.20 427.3v-2.1h1.5v2.1zM785.15 427.3v-2.3h1.5v2.3zM788.10 427.3v-1.6h1.5v1.6zM791.05 427.3v-3.8h1.5v3.8zM794.00 427.3v-4.0h1.5v4.0zM796.95 427.3v-6.2h1.5v6.2zM799.90 427.3v-7.8h1.5v7.8zM802.85 427.3v-10.6h1.5v10.6zM805.80 427.3v-11.0h1.5v11.0zM808.75 427.3v-6.8h1.5v6.8zM811.70 427.3v-15.2h1.5v15.2zM814.65 427.3v-15.3h1.5v15.3zM817.60 427.3v-21.2h1.5v21.2zM820.55 427.3v-24.9h1.5v24.9zM823.50 427.3v-32.2h1.5v32.2zM826.45 427.3v-30.4h1.5v30.4zM829.40 427.3v-19.5h1.5v19.5zM832.35 427.3v-44.4h1.5v44.4zM835.30 427.3v-45.3h1.5v45.3zM838.25 427.3v-48.3h1.5v48.3zM841.20 427.3v-46.3h1.5v46.3zM844.15 427.3v-50.4h1.5v50.4zM847.10 427.3v-44.7h1.5v44.7zM850.05 427.3v-27.2h1.5v27.2zM853.00 427.3v-50.6h1.5v50.6zM855.95 427.3v-45.0h1.5v45.0zM858.90 427.3v-29.6h1.5v29.6zM861.85 427.3v-16.9h1.5v16.9zM864.80 427.3v-67.5h1.5v67.5zM867.75 427.3v-58.6h1.5v58.6zM870.70 427.3v-31.2h1.5v31.2zM873.65 427.3v-76.1h1.5v76.1zM876.60 427.3v-73.2h1.5v73.2zM879.55 427.3v-71.5h1.5v71.5zM882.50 427.3v-64.8h1.5v64.8zM885.45 427.3v-80.2h1.5v80.2zM888.40 427.3v-68.2h1.5v68.2zM891.35 427.3v-35.2h1.5v35.2zM894.30 427.3v-61.4h1.5v61.4zM897.25 427.3v-58.8h1.5v58.8zM900.20 427.3v-57.6h1.5v57.6zM903.15 427.3v-50.3h1.5v50.3zM906.10 427.3v-51.6h1.5v51.6zM909.05 427.3v-41.3h1.5v41.3zM912.00 427.3v-20.9h1.5v20.9zM914.95 427.3v-36.8h1.5v36.8zM917.90 427.3v-28.0h1.5v28.0zM920.85 427.3v-25.0h1.5v25.0zM923.80 427.3v-20.8h1.5v20.8zM926.75 427.3v-20.0h1.5v20.0zM929.70 427.3v-15.8h1.5v15.8zM932.65 427.3v-7.9h1.5v7.9zM935.60 427.3v-14.3h1.5v14.3zM938.55 427.3v-11.6h1.5v11.6zM941.50 427.3v-11.1h1.5v11.1zM944.45 427.3v-9.6h1.5v9.6zM947.40 427.3v-9.4h1.5v9.4zM950.35 427.3v-7.8h1.5v7.8zM953.30 427.3v-4.4h1.5v4.4zM956.25 427.3v-7.9h1.5v7.9zM959.20 427.3v-7.1h1.5v7.1zM962.15 427.3v-7.1h1.5v7.1zM965.10 427.3v-5.9h1.5v5.9zM968.05 427.3v-6.5h1.5v6.5zM971.00 427.3v-5.1h1.5v5.1zM973.95 427.3v-2.8h1.5v2.8zM976.90 427.3v-5.4h1.5v5.4zM979.85 427.3v-4.4h1.5v4.4zM982.80 427.3v-4.2h1.5v4.2z" fill="#a8d4f7" opacity="0.4"/>
<path d="M733.55 427.3v-0.3h1.45v0.3zM742.40 427.3v-0.3h1.45v0.3zM751.25 427.3v-0.5h1.45v0.5zM760.10 427.3v-0.9h1.45v0.9zM768.95 427.3v-1.5h1.45v1.5zM777.80 427.3v-1.9h1.45v1.9zM786.65 427.3v-2.0h1.45v2.0zM795.50 427.3v-7.8h1.45v7.8zM804.35 427.3v-13.8h1.45v13.8zM813.20 427.3v-19.2h1.45v19.2zM822.05 427.3v-40.3h1.45v40.3zM830.90 427.3v-55.5h1.45v55.5zM839.75 427.3v-57.8h1.45v57.8zM848.60 427.3v-34.0h1.45v34.0zM857.45 427.3v-37.0h1.45v37.0zM866.30 427.3v-73.3h1.45v73.3zM875.15 427.3v-91.5h1.45v91.5zM884.00 427.3v-100.2h1.45v100.2zM892.85 427.3v-76.8h1.45v76.8zM901.70 427.3v-62.9h1.45v62.9zM910.55 427.3v-26.2h1.45v26.2zM919.40 427.3v-31.3h1.45v31.3zM928.25 427.3v-19.7h1.45v19.7zM937.10 427.3v-14.5h1.45v14.5zM945.95 427.3v-11.8h1.45v11.8zM954.80 427.3v-9.8h1.45v9.8zM963.65 427.3v-7.4h1.45v7.4zM972.50 427.3v-3.5h1.45v3.5zM981.35 427.3v-5.2h1.45v5.2z" fill="#3f97e6"/>
<path d="M736.50 427.3v-0.3h1.45v0.3zM754.20 427.3v-0.6h1.45v0.6zM763.05 427.3v-0.9h1.45v0.9zM771.90 427.3v-1.6h1.45v1.6zM780.75 427.3v-2.6h1.45v2.6zM789.60 427.3v-4.7h1.45v4.7zM798.45 427.3v-9.8h1.45v9.8zM807.30 427.3v-8.5h1.45v8.5zM816.15 427.3v-26.5h1.45v26.5zM825.00 427.3v-38.0h1.45v38.0zM833.85 427.3v-56.6h1.45v56.6zM842.70 427.3v-63.0h1.45v63.0zM851.55 427.3v-63.3h1.45v63.3zM860.40 427.3v-21.1h1.45v21.1zM869.25 427.3v-39.0h1.45v39.0zM878.10 427.3v-89.4h1.45v89.4zM886.95 427.3v-85.3h1.45v85.3zM895.80 427.3v-73.5h1.45v73.5zM904.65 427.3v-64.4h1.45v64.4zM913.50 427.3v-46.0h1.45v46.0zM922.35 427.3v-26.0h1.45v26.0zM931.20 427.3v-9.9h1.45v9.9zM940.05 427.3v-13.9h1.45v13.9zM948.90 427.3v-9.8h1.45v9.8zM957.75 427.3v-8.9h1.45v8.9zM966.60 427.3v-8.1h1.45v8.1zM975.45 427.3v-6.8h1.45v6.8z" fill="#86c5f4"/>
<path d="M739.45 427.3v-0.3h1.45v0.3zM748.30 427.3v-0.5h1.45v0.5zM757.15 427.3v-0.6h1.45v0.6zM766.00 427.3v-0.6h1.45v0.6zM774.85 427.3v-1.9h1.45v1.9zM783.70 427.3v-2.9h1.45v2.9zM792.55 427.3v-5.1h1.45v5.1zM801.40 427.3v-13.3h1.45v13.3zM810.25 427.3v-19.0h1.45v19.0zM819.10 427.3v-31.2h1.45v31.2zM827.95 427.3v-24.4h1.45v24.4zM836.80 427.3v-60.4h1.45v60.4zM845.65 427.3v-55.8h1.45v55.8zM854.50 427.3v-56.3h1.45v56.3zM863.35 427.3v-84.4h1.45v84.4zM872.20 427.3v-95.1h1.45v95.1zM881.05 427.3v-80.9h1.45v80.9zM889.90 427.3v-44.0h1.45v44.0zM898.75 427.3v-72.0h1.45v72.0zM907.60 427.3v-51.6h1.45v51.6zM916.45 427.3v-35.0h1.45v35.0zM925.30 427.3v-25.0h1.45v25.0zM934.15 427.3v-17.9h1.45v17.9zM943.00 427.3v-12.0h1.45v12.0zM951.85 427.3v-5.4h1.45v5.4zM960.70 427.3v-8.9h1.45v8.9zM969.55 427.3v-6.4h1.45v6.4zM978.40 427.3v-5.5h1.45v5.5z" fill="#5aaaee"/>
<path d="M808.80 427.3v-0.6h1.45v0.6zM811.75 427.3v-2.1h1.45v2.1zM814.70 427.3v-5.3h1.45v5.3zM817.65 427.3v-9.4h1.45v9.4zM820.60 427.3v-12.2h1.45v12.2zM823.55 427.3v-17.4h1.45v17.4zM826.50 427.3v-18.7h1.45v18.7zM829.45 427.3v-11.8h1.45v11.8zM832.40 427.3v-22.0h1.45v22.0zM835.35 427.3v-22.5h1.45v22.5zM838.30 427.3v-26.9h1.45v26.9zM841.25 427.3v-25.8h1.45v25.8zM844.20 427.3v-33.6h1.45v33.6zM847.15 427.3v-32.1h1.45v32.1zM850.10 427.3v-18.9h1.45v18.9zM853.05 427.3v-36.7h1.45v36.7zM856.00 427.3v-33.0h1.45v33.0zM858.95 427.3v-25.2h1.45v25.2zM861.90 427.3v-14.2h1.45v14.2zM864.85 427.3v-43.3h1.45v43.3zM867.80 427.3v-44.6h1.45v44.6zM870.75 427.3v-29.5h1.45v29.5zM873.70 427.3v-55.1h1.45v55.1zM876.65 427.3v-58.4h1.45v58.4zM879.60 427.3v-60.2h1.45v60.2zM882.55 427.3v-50.9h1.45v50.9zM885.50 427.3v-59.6h1.45v59.6zM888.45 427.3v-46.3h1.45v46.3zM891.40 427.3v-25.9h1.45v25.9zM894.35 427.3v-41.6h1.45v41.6zM897.30 427.3v-45.6h1.45v45.6zM900.25 427.3v-42.6h1.45v42.6zM903.20 427.3v-36.0h1.45v36.0zM906.15 427.3v-35.9h1.45v35.9zM909.10 427.3v-29.3h1.45v29.3zM912.05 427.3v-14.7h1.45v14.7zM915.00 427.3v-25.4h1.45v25.4zM917.95 427.3v-23.0h1.45v23.0zM920.90 427.3v-19.2h1.45v19.2zM923.85 427.3v-14.9h1.45v14.9zM926.80 427.3v-12.9h1.45v12.9zM929.75 427.3v-7.4h1.45v7.4zM932.70 427.3v-2.0h1.45v2.0zM935.65 427.3v-0.5h1.45v0.5z" fill="#8a8acd" opacity="0.42"/>
<path d="M807.40 427.3v-0.7h1.4v0.7zM810.35 427.3v-2.4h1.4v2.4zM813.30 427.3v-5.9h1.4v5.9zM816.25 427.3v-10.5h1.4v10.5zM819.20 427.3v-13.6h1.4v13.6zM822.15 427.3v-19.3h1.4v19.3zM825.10 427.3v-20.8h1.4v20.8zM828.05 427.3v-13.1h1.4v13.1zM831.00 427.3v-24.4h1.4v24.4zM833.95 427.3v-25.0h1.4v25.0zM836.90 427.3v-29.9h1.4v29.9zM839.85 427.3v-28.7h1.4v28.7zM842.80 427.3v-37.3h1.4v37.3zM845.75 427.3v-35.6h1.4v35.6zM848.70 427.3v-21.0h1.4v21.0zM851.65 427.3v-40.7h1.4v40.7zM854.60 427.3v-36.6h1.4v36.6zM857.55 427.3v-28.0h1.4v28.0zM860.50 427.3v-15.8h1.4v15.8zM863.45 427.3v-48.1h1.4v48.1zM866.40 427.3v-49.6h1.4v49.6zM869.35 427.3v-32.8h1.4v32.8zM872.30 427.3v-61.3h1.4v61.3zM875.25 427.3v-64.9h1.4v64.9zM878.20 427.3v-66.8h1.4v66.8zM881.15 427.3v-56.6h1.4v56.6zM884.10 427.3v-66.2h1.4v66.2zM887.05 427.3v-51.5h1.4v51.5zM890.00 427.3v-28.8h1.4v28.8zM892.95 427.3v-46.3h1.4v46.3zM895.90 427.3v-50.7h1.4v50.7zM898.85 427.3v-47.4h1.4v47.4zM901.80 427.3v-40.0h1.4v40.0zM904.75 427.3v-39.9h1.4v39.9zM907.70 427.3v-32.5h1.4v32.5zM910.65 427.3v-16.4h1.4v16.4zM913.60 427.3v-28.2h1.4v28.2zM916.55 427.3v-25.6h1.4v25.6zM919.50 427.3v-21.4h1.4v21.4zM922.45 427.3v-16.6h1.4v16.6zM925.40 427.3v-14.3h1.4v14.3zM928.35 427.3v-8.3h1.4v8.3zM931.30 427.3v-2.2h1.4v2.2zM934.25 427.3v-0.5h1.4v0.5z" fill="#2f2fa0" opacity="0.66"/>
<path d="M706 427.3H830" stroke="#1d2a8a" stroke-width="1"/>
<path d="M706 427 L770 426.5 L790 425.8 L805.6 424.5 L821 419.3 L833 412.2 L848.4 401.5 L865 389.6 L877 375.4 L888.8 361 L896.2 354.2 L900 351.2 L907.6 346 L921.3 338.9 L945.7 333.6 L980.6 330.2" fill="none" stroke="#141c66" stroke-width="1.1" stroke-linejoin="round"/>
<rect x="737.4" y="419.59999999999997" width="15.2" height="5" fill="#f2f2f2" opacity="0.72"/>
<text font-size="4.5" fill="#2a2a2a" x="745" y="423.8" text-anchor="middle" font-weight="bold" textLength="13.6" lengthAdjust="spacingAndGlyphs">0,00Mln</text>
<rect x="772.1999999999999" y="418.4" width="15.2" height="5" fill="#f2f2f2" opacity="0.72"/>
<text font-size="4.5" fill="#2a2a2a" x="779.8" y="422.6" text-anchor="middle" font-weight="bold" textLength="13.6" lengthAdjust="spacingAndGlyphs">0,05Mln</text>
<rect x="804.6999999999999" y="413.9" width="15.2" height="5" fill="#f2f2f2" opacity="0.72"/>
<text font-size="4.5" fill="#2a2a2a" x="812.3" y="418.1" text-anchor="middle" font-weight="bold" textLength="13.6" lengthAdjust="spacingAndGlyphs">0,16Mln</text>
<rect x="801.4" y="422.7" width="15.2" height="5" fill="#f2f2f2" opacity="0.72"/>
<text font-size="4.5" fill="#2a2a2a" x="809" y="426.90000000000003" text-anchor="middle" font-weight="bold" textLength="13.6" lengthAdjust="spacingAndGlyphs">0,08Mln</text>
<rect x="839.4" y="396.4" width="15.2" height="5" fill="#f2f2f2" opacity="0.72"/>
<text font-size="4.5" fill="#2a2a2a" x="847" y="400.6" text-anchor="middle" font-weight="bold" textLength="13.6" lengthAdjust="spacingAndGlyphs">0,65Mln</text>
<rect x="856.4" y="383.9" width="15.2" height="5" fill="#f2f2f2" opacity="0.72"/>
<text font-size="4.5" fill="#2a2a2a" x="864" y="388.1" text-anchor="middle" font-weight="bold" textLength="13.6" lengthAdjust="spacingAndGlyphs">0,85Mln</text>
<rect x="874.1" y="369.2" width="15.2" height="5" fill="#f2f2f2" opacity="0.72"/>
<text font-size="4.5" fill="#2a2a2a" x="881.7" y="373.40000000000003" text-anchor="middle" font-weight="bold" textLength="13.6" lengthAdjust="spacingAndGlyphs">1,12Mln</text>
<rect x="905.6999999999999" y="335.59999999999997" width="15.2" height="5" fill="#f2f2f2" opacity="0.72"/>
<text font-size="4.5" fill="#2a2a2a" x="913.3" y="339.8" text-anchor="middle" font-weight="bold" textLength="13.6" lengthAdjust="spacingAndGlyphs">2,08Mln</text>
<rect x="940.6" y="326.0" width="15.2" height="5" fill="#f2f2f2" opacity="0.72"/>
<text font-size="4.5" fill="#2a2a2a" x="948.2" y="330.20000000000005" text-anchor="middle" font-weight="bold" textLength="13.6" lengthAdjust="spacingAndGlyphs">2,50Mln</text>
<rect x="965.0" y="321.9" width="15.2" height="5" fill="#f2f2f2" opacity="0.72"/>
<text font-size="4.5" fill="#2a2a2a" x="972.6" y="326.1" text-anchor="middle" font-weight="bold" textLength="13.6" lengthAdjust="spacingAndGlyphs">2,60Mln</text>
<path d="M687.4 316.8V425.4" stroke="#555" stroke-width="1.3"/>
<circle cx="687.6" cy="314.7" r="2.1" fill="#fff" stroke="#555" stroke-width="0.9"/><circle cx="687.1" cy="427.5" r="2.2" fill="#fff" stroke="#555" stroke-width="0.9"/>
<path d="M708.7 440.3H849.7" stroke="#cfcfcf" stroke-width="1.6"/><path d="M849.7 440.3H978" stroke="#555" stroke-width="1.8"/>
<circle cx="849.7" cy="440.3" r="2.2" fill="#fff" stroke="#555" stroke-width="0.9"/><circle cx="978" cy="440.3" r="2.3" fill="#fff" stroke="#555" stroke-width="0.9"/>
<text font-size="11.9" fill="#0b0b0b" x="711" y="326.8" font-weight="bold" textLength="57.1" lengthAdjust="spacingAndGlyphs">2.602.424</text>
<text font-size="5.2" fill="#333" x="739.5" y="336.4" text-anchor="middle" textLength="41" lengthAdjust="spacingAndGlyphs">Somministrazioni</text>
</g>
</g>
</svg>
</body></html>
